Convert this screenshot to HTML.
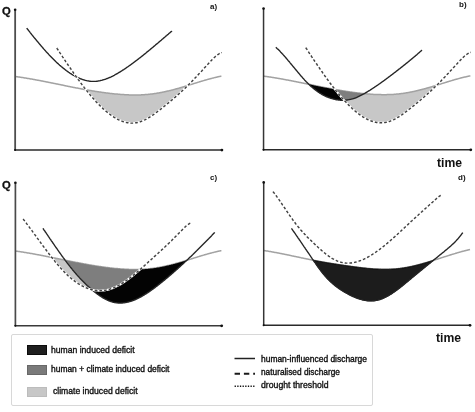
<!DOCTYPE html>
<html><head><meta charset="utf-8"><style>
html,body{margin:0;padding:0;background:#fff;}
body{width:475px;height:412px;position:relative;overflow:hidden;font-family:"Liberation Sans",sans-serif;}
.t,.lt{will-change:transform;}
svg{position:absolute;left:0;top:0;}
.t{position:absolute;white-space:nowrap;color:#111;line-height:1;}
.b{font-weight:bold;}
.tm{font-size:12.2px;}
.lg{position:absolute;left:11.3px;top:334.3px;width:361.3px;height:71.3px;border:1px solid #d8d8d8;box-sizing:border-box;border-radius:2px;}
.sw{position:absolute;left:27px;width:20.4px;height:10px;box-sizing:border-box;}
.lt{position:absolute;font-size:8.6px;color:#111;white-space:nowrap;line-height:1;-webkit-text-stroke:0.35px #111;}
</style></head><body>
<div class="lg"></div>
<svg width="475" height="412" viewBox="0 0 475 412">
<path d="M85.5,89.6 L86.0,89.7 L86.5,89.8 L87.0,89.9 L87.5,90.0 L88.0,90.1 L88.5,90.2 L89.0,90.3 L89.5,90.4 L90.0,90.4 L90.5,90.5 L91.0,90.6 L91.5,90.7 L92.0,90.8 L92.5,90.9 L93.0,91.0 L93.5,91.0 L94.0,91.1 L94.5,91.2 L95.0,91.3 L95.5,91.4 L96.0,91.4 L96.5,91.5 L97.0,91.6 L97.5,91.7 L98.0,91.8 L98.5,91.8 L99.0,91.9 L99.5,92.0 L100.0,92.1 L100.5,92.1 L101.0,92.2 L101.5,92.3 L102.0,92.3 L102.5,92.4 L103.0,92.5 L103.5,92.6 L104.0,92.6 L104.5,92.7 L105.0,92.8 L105.5,92.8 L106.0,92.9 L106.5,93.0 L107.0,93.0 L107.5,93.1 L108.0,93.1 L108.5,93.2 L109.0,93.3 L109.5,93.3 L110.0,93.4 L110.5,93.4 L111.0,93.5 L111.5,93.5 L112.0,93.6 L112.5,93.7 L113.0,93.7 L113.5,93.8 L114.0,93.8 L114.5,93.9 L115.0,93.9 L115.5,94.0 L116.0,94.0 L116.5,94.1 L117.0,94.1 L117.5,94.1 L118.0,94.2 L118.5,94.2 L119.0,94.3 L119.5,94.3 L120.0,94.3 L120.5,94.4 L121.0,94.4 L121.5,94.5 L122.0,94.5 L122.5,94.5 L123.0,94.6 L123.5,94.6 L124.0,94.6 L124.5,94.7 L125.0,94.7 L125.5,94.7 L126.0,94.7 L126.5,94.8 L127.0,94.8 L127.5,94.8 L128.0,94.8 L128.5,94.8 L129.0,94.9 L129.5,94.9 L130.0,94.9 L130.5,94.9 L131.0,94.9 L131.5,94.9 L132.0,94.9 L132.5,95.0 L133.0,95.0 L133.5,95.0 L134.0,95.0 L134.5,95.0 L135.0,95.0 L135.5,95.0 L136.0,95.0 L136.5,95.0 L137.0,95.0 L137.5,95.0 L138.0,94.9 L138.5,94.9 L139.0,94.9 L139.5,94.9 L140.0,94.9 L140.5,94.9 L141.0,94.9 L141.5,94.8 L142.0,94.8 L142.5,94.8 L143.0,94.8 L143.5,94.7 L144.0,94.7 L144.5,94.7 L145.0,94.6 L145.5,94.6 L146.0,94.6 L146.5,94.5 L147.0,94.5 L147.5,94.4 L148.0,94.4 L148.5,94.3 L149.0,94.3 L149.5,94.2 L150.0,94.2 L150.5,94.1 L151.0,94.1 L151.5,94.0 L152.0,93.9 L152.5,93.9 L153.0,93.8 L153.5,93.7 L154.0,93.7 L154.5,93.6 L155.0,93.5 L155.5,93.5 L156.0,93.4 L156.5,93.3 L157.0,93.2 L157.5,93.1 L158.0,93.0 L158.5,93.0 L159.0,92.9 L159.5,92.8 L160.0,92.7 L160.5,92.6 L161.0,92.5 L161.5,92.4 L162.0,92.3 L162.5,92.2 L163.0,92.1 L163.5,92.0 L164.0,91.9 L164.5,91.8 L165.0,91.7 L165.5,91.6 L166.0,91.5 L166.5,91.3 L167.0,91.2 L167.5,91.1 L168.0,91.0 L168.5,90.9 L169.0,90.8 L169.5,90.6 L170.0,90.5 L170.5,90.4 L171.0,90.3 L171.5,90.1 L172.0,90.0 L172.5,89.9 L173.0,89.8 L173.5,89.6 L174.0,89.5 L174.5,89.4 L175.0,89.2 L175.5,89.1 L176.0,89.0 L176.5,88.8 L177.0,88.7 L177.5,88.5 L178.0,88.4 L178.5,88.3 L179.0,88.1 L179.5,88.0 L180.0,87.8 L180.5,87.7 L181.0,87.5 L181.5,87.4 L182.0,87.2 L182.5,87.1 L183.0,86.9 L183.5,86.8 L184.0,86.6 L184.5,86.5 L185.0,86.3 L185.5,86.2 L186.0,86.0 L186.5,85.9 L187.0,85.7 L187.5,85.6 L188.0,85.4 L188.0,85.4 L187.5,85.8 L187.0,86.3 L186.5,86.7 L186.0,87.2 L185.5,87.7 L185.0,88.2 L184.5,88.7 L184.0,89.1 L183.5,89.6 L183.0,90.1 L182.5,90.6 L182.0,91.0 L181.5,91.5 L181.0,91.9 L180.5,92.4 L180.0,92.9 L179.5,93.3 L179.0,93.8 L178.5,94.2 L178.0,94.7 L177.5,95.1 L177.0,95.6 L176.5,96.0 L176.0,96.4 L175.5,96.9 L175.0,97.3 L174.5,97.8 L174.0,98.2 L173.5,98.6 L173.0,99.0 L172.5,99.5 L172.0,99.9 L171.5,100.3 L171.0,100.8 L170.5,101.2 L170.0,101.6 L169.5,102.0 L169.0,102.4 L168.5,102.8 L168.0,103.3 L167.5,103.7 L167.0,104.1 L166.5,104.5 L166.0,104.9 L165.5,105.3 L165.0,105.7 L164.5,106.1 L164.0,106.5 L163.5,106.9 L163.0,107.3 L162.5,107.7 L162.0,108.1 L161.5,108.5 L161.0,108.9 L160.5,109.3 L160.0,109.7 L159.5,110.1 L159.0,110.5 L158.5,110.9 L158.0,111.2 L157.5,111.6 L157.0,112.0 L156.5,112.4 L156.0,112.8 L155.5,113.1 L155.0,113.5 L154.5,113.9 L154.0,114.2 L153.5,114.6 L153.0,114.9 L152.5,115.3 L152.0,115.6 L151.5,115.9 L151.0,116.3 L150.5,116.6 L150.0,116.9 L149.5,117.2 L149.0,117.6 L148.5,117.9 L148.0,118.2 L147.5,118.4 L147.0,118.7 L146.5,119.0 L146.0,119.3 L145.5,119.5 L145.0,119.8 L144.5,120.0 L144.0,120.3 L143.5,120.5 L143.0,120.7 L142.5,120.9 L142.0,121.1 L141.5,121.3 L141.0,121.5 L140.5,121.7 L140.0,121.9 L139.5,122.0 L139.0,122.2 L138.5,122.3 L138.0,122.4 L137.5,122.5 L137.0,122.6 L136.5,122.7 L136.0,122.8 L135.5,122.9 L135.0,122.9 L134.5,123.0 L134.0,123.0 L133.5,123.1 L133.0,123.1 L132.5,123.1 L132.0,123.1 L131.5,123.1 L131.0,123.1 L130.5,123.1 L130.0,123.0 L129.5,123.0 L129.0,122.9 L128.5,122.8 L128.0,122.8 L127.5,122.7 L127.0,122.6 L126.5,122.5 L126.0,122.4 L125.5,122.3 L125.0,122.1 L124.5,122.0 L124.0,121.9 L123.5,121.7 L123.0,121.5 L122.5,121.4 L122.0,121.2 L121.5,121.0 L121.0,120.8 L120.5,120.6 L120.0,120.4 L119.5,120.2 L119.0,119.9 L118.5,119.7 L118.0,119.4 L117.5,119.2 L117.0,118.9 L116.5,118.7 L116.0,118.4 L115.5,118.1 L115.0,117.8 L114.5,117.5 L114.0,117.2 L113.5,116.9 L113.0,116.5 L112.5,116.2 L112.0,115.9 L111.5,115.5 L111.0,115.2 L110.5,114.8 L110.0,114.4 L109.5,114.1 L109.0,113.7 L108.5,113.3 L108.0,112.9 L107.5,112.5 L107.0,112.1 L106.5,111.7 L106.0,111.3 L105.5,110.8 L105.0,110.4 L104.5,110.0 L104.0,109.5 L103.5,109.1 L103.0,108.6 L102.5,108.1 L102.0,107.7 L101.5,107.2 L101.0,106.7 L100.5,106.2 L100.0,105.7 L99.5,105.2 L99.0,104.7 L98.5,104.2 L98.0,103.7 L97.5,103.2 L97.0,102.6 L96.5,102.1 L96.0,101.6 L95.5,101.0 L95.0,100.5 L94.5,99.9 L94.0,99.4 L93.5,98.8 L93.0,98.2 L92.5,97.6 L92.0,97.1 L91.5,96.5 L91.0,95.9 L90.5,95.3 L90.0,94.7 L89.5,94.1 L89.0,93.5 L88.5,92.9 L88.0,92.3 L87.5,91.6 L87.0,91.0 L86.5,90.4 L86.0,89.8 L85.5,89.6Z" fill="#c7c7c7"/>
<path d="M15.0,76.5 L15.5,76.5 L16.0,76.6 L16.5,76.7 L17.0,76.7 L17.5,76.8 L18.0,76.9 L18.5,77.0 L19.0,77.0 L19.5,77.1 L20.0,77.2 L20.5,77.2 L21.0,77.3 L21.5,77.4 L22.0,77.5 L22.5,77.6 L23.0,77.6 L23.5,77.7 L24.0,77.8 L24.5,77.9 L25.0,78.0 L25.5,78.0 L26.0,78.1 L26.5,78.2 L27.0,78.3 L27.5,78.4 L28.0,78.5 L28.5,78.5 L29.0,78.6 L29.5,78.7 L30.0,78.8 L30.5,78.9 L31.0,79.0 L31.5,79.1 L32.0,79.1 L32.5,79.2 L33.0,79.3 L33.5,79.4 L34.0,79.5 L34.5,79.6 L35.0,79.7 L35.5,79.8 L36.0,79.9 L36.5,80.0 L37.0,80.1 L37.5,80.2 L38.0,80.2 L38.5,80.3 L39.0,80.4 L39.5,80.5 L40.0,80.6 L40.5,80.7 L41.0,80.8 L41.5,80.9 L42.0,81.0 L42.5,81.1 L43.0,81.2 L43.5,81.3 L44.0,81.4 L44.5,81.5 L45.0,81.6 L45.5,81.7 L46.0,81.8 L46.5,81.9 L47.0,82.0 L47.5,82.1 L48.0,82.2 L48.5,82.3 L49.0,82.4 L49.5,82.5 L50.0,82.6 L50.5,82.7 L51.0,82.8 L51.5,82.9 L52.0,83.0 L52.5,83.1 L53.0,83.2 L53.5,83.3 L54.0,83.4 L54.5,83.5 L55.0,83.6 L55.5,83.7 L56.0,83.8 L56.5,83.9 L57.0,84.0 L57.5,84.1 L58.0,84.2 L58.5,84.3 L59.0,84.4 L59.5,84.5 L60.0,84.6 L60.5,84.7 L61.0,84.8 L61.5,84.9 L62.0,85.0 L62.5,85.1 L63.0,85.2 L63.5,85.3 L64.0,85.4 L64.5,85.5 L65.0,85.7 L65.5,85.8 L66.0,85.9 L66.5,86.0 L67.0,86.1 L67.5,86.2 L68.0,86.3 L68.5,86.4 L69.0,86.5 L69.5,86.6 L70.0,86.7 L70.5,86.8 L71.0,86.9 L71.5,87.0 L72.0,87.1 L72.5,87.2 L73.0,87.3 L73.5,87.4 L74.0,87.5 L74.5,87.6 L75.0,87.7 L75.5,87.8 L76.0,87.9 L76.5,88.0 L77.0,88.0 L77.5,88.1 L78.0,88.2 L78.5,88.3 L79.0,88.4 L79.5,88.5 L80.0,88.6 L80.5,88.7 L81.0,88.8 L81.5,88.9 L82.0,89.0 L82.5,89.1 L83.0,89.2 L83.5,89.3 L84.0,89.4 L84.5,89.5 L85.0,89.6 L85.5,89.6 L86.0,89.7 L86.5,89.8 L87.0,89.9 L87.5,90.0 L88.0,90.1 L88.5,90.2 L89.0,90.3 L89.5,90.4 L90.0,90.4 L90.5,90.5 L91.0,90.6 L91.5,90.7 L92.0,90.8 L92.5,90.9 L93.0,91.0 L93.5,91.0 L94.0,91.1 L94.5,91.2 L95.0,91.3 L95.5,91.4 L96.0,91.4 L96.5,91.5 L97.0,91.6 L97.5,91.7 L98.0,91.8 L98.5,91.8 L99.0,91.9 L99.5,92.0 L100.0,92.1 L100.5,92.1 L101.0,92.2 L101.5,92.3 L102.0,92.3 L102.5,92.4 L103.0,92.5 L103.5,92.6 L104.0,92.6 L104.5,92.7 L105.0,92.8 L105.5,92.8 L106.0,92.9 L106.5,93.0 L107.0,93.0 L107.5,93.1 L108.0,93.1 L108.5,93.2 L109.0,93.3 L109.5,93.3 L110.0,93.4 L110.5,93.4 L111.0,93.5 L111.5,93.5 L112.0,93.6 L112.5,93.7 L113.0,93.7 L113.5,93.8 L114.0,93.8 L114.5,93.9 L115.0,93.9 L115.5,94.0 L116.0,94.0 L116.5,94.1 L117.0,94.1 L117.5,94.1 L118.0,94.2 L118.5,94.2 L119.0,94.3 L119.5,94.3 L120.0,94.3 L120.5,94.4 L121.0,94.4 L121.5,94.5 L122.0,94.5 L122.5,94.5 L123.0,94.6 L123.5,94.6 L124.0,94.6 L124.5,94.7 L125.0,94.7 L125.5,94.7 L126.0,94.7 L126.5,94.8 L127.0,94.8 L127.5,94.8 L128.0,94.8 L128.5,94.8 L129.0,94.9 L129.5,94.9 L130.0,94.9 L130.5,94.9 L131.0,94.9 L131.5,94.9 L132.0,94.9 L132.5,95.0 L133.0,95.0 L133.5,95.0 L134.0,95.0 L134.5,95.0 L135.0,95.0 L135.5,95.0 L136.0,95.0 L136.5,95.0 L137.0,95.0 L137.5,95.0 L138.0,94.9 L138.5,94.9 L139.0,94.9 L139.5,94.9 L140.0,94.9 L140.5,94.9 L141.0,94.9 L141.5,94.8 L142.0,94.8 L142.5,94.8 L143.0,94.8 L143.5,94.7 L144.0,94.7 L144.5,94.7 L145.0,94.6 L145.5,94.6 L146.0,94.6 L146.5,94.5 L147.0,94.5 L147.5,94.4 L148.0,94.4 L148.5,94.3 L149.0,94.3 L149.5,94.2 L150.0,94.2 L150.5,94.1 L151.0,94.1 L151.5,94.0 L152.0,93.9 L152.5,93.9 L153.0,93.8 L153.5,93.7 L154.0,93.7 L154.5,93.6 L155.0,93.5 L155.5,93.5 L156.0,93.4 L156.5,93.3 L157.0,93.2 L157.5,93.1 L158.0,93.0 L158.5,93.0 L159.0,92.9 L159.5,92.8 L160.0,92.7 L160.5,92.6 L161.0,92.5 L161.5,92.4 L162.0,92.3 L162.5,92.2 L163.0,92.1 L163.5,92.0 L164.0,91.9 L164.5,91.8 L165.0,91.7 L165.5,91.6 L166.0,91.5 L166.5,91.3 L167.0,91.2 L167.5,91.1 L168.0,91.0 L168.5,90.9 L169.0,90.8 L169.5,90.6 L170.0,90.5 L170.5,90.4 L171.0,90.3 L171.5,90.1 L172.0,90.0 L172.5,89.9 L173.0,89.8 L173.5,89.6 L174.0,89.5 L174.5,89.4 L175.0,89.2 L175.5,89.1 L176.0,89.0 L176.5,88.8 L177.0,88.7 L177.5,88.5 L178.0,88.4 L178.5,88.3 L179.0,88.1 L179.5,88.0 L180.0,87.8 L180.5,87.7 L181.0,87.5 L181.5,87.4 L182.0,87.2 L182.5,87.1 L183.0,86.9 L183.5,86.8 L184.0,86.6 L184.5,86.5 L185.0,86.3 L185.5,86.2 L186.0,86.0 L186.5,85.9 L187.0,85.7 L187.5,85.6 L188.0,85.4 L188.5,85.3 L189.0,85.1 L189.5,84.9 L190.0,84.8 L190.5,84.6 L191.0,84.5 L191.5,84.3 L192.0,84.2 L192.5,84.0 L193.0,83.9 L193.5,83.7 L194.0,83.5 L194.5,83.4 L195.0,83.2 L195.5,83.1 L196.0,82.9 L196.5,82.8 L197.0,82.6 L197.5,82.5 L198.0,82.3 L198.5,82.1 L199.0,82.0 L199.5,81.8 L200.0,81.7 L200.5,81.5 L201.0,81.4 L201.5,81.2 L202.0,81.1 L202.5,80.9 L203.0,80.8 L203.5,80.6 L204.0,80.5 L204.5,80.3 L205.0,80.2 L205.5,80.0 L206.0,79.9 L206.5,79.8 L207.0,79.6 L207.5,79.5 L208.0,79.3 L208.5,79.2 L209.0,79.1 L209.5,78.9 L210.0,78.8 L210.5,78.7 L211.0,78.5 L211.5,78.4 L212.0,78.3 L212.5,78.1 L213.0,78.0 L213.5,77.9 L214.0,77.8 L214.5,77.6 L215.0,77.5 L215.5,77.4 L216.0,77.3 L216.5,77.2 L217.0,77.1 L217.5,77.0 L218.0,76.8 L218.5,76.7 L219.0,76.6 L219.5,76.5 L220.0,76.4 L220.5,76.3 L221.0,76.2 L221.4,76.2" fill="none" stroke="#a2a2a2" stroke-width="1.5"/>
<path d="M26.7,28.1 L27.2,28.8 L27.7,29.4 L28.2,30.0 L28.7,30.7 L29.2,31.3 L29.7,31.9 L30.2,32.6 L30.7,33.2 L31.2,33.8 L31.7,34.5 L32.2,35.1 L32.7,35.7 L33.2,36.3 L33.7,37.0 L34.2,37.6 L34.7,38.2 L35.2,38.8 L35.7,39.4 L36.2,40.0 L36.7,40.6 L37.2,41.2 L37.7,41.8 L38.2,42.4 L38.7,43.0 L39.2,43.6 L39.7,44.2 L40.2,44.8 L40.7,45.4 L41.2,46.0 L41.7,46.6 L42.2,47.1 L42.7,47.7 L43.2,48.3 L43.7,48.9 L44.2,49.4 L44.7,50.0 L45.2,50.5 L45.7,51.1 L46.2,51.7 L46.7,52.2 L47.2,52.8 L47.7,53.3 L48.2,53.8 L48.7,54.4 L49.2,54.9 L49.7,55.4 L50.2,56.0 L50.7,56.5 L51.2,57.0 L51.7,57.5 L52.2,58.0 L52.7,58.5 L53.2,59.0 L53.7,59.5 L54.2,60.0 L54.7,60.5 L55.2,61.0 L55.7,61.5 L56.2,61.9 L56.7,62.4 L57.2,62.9 L57.7,63.4 L58.2,63.8 L58.7,64.3 L59.2,64.7 L59.7,65.2 L60.2,65.6 L60.7,66.0 L61.2,66.5 L61.7,66.9 L62.2,67.3 L62.7,67.7 L63.2,68.1 L63.7,68.5 L64.2,68.9 L64.7,69.3 L65.2,69.7 L65.7,70.1 L66.2,70.5 L66.7,70.8 L67.2,71.2 L67.7,71.6 L68.2,71.9 L68.7,72.3 L69.2,72.6 L69.7,73.0 L70.2,73.3 L70.7,73.6 L71.2,73.9 L71.7,74.3 L72.2,74.6 L72.7,74.9 L73.2,75.2 L73.7,75.5 L74.2,75.7 L74.7,76.0 L75.2,76.3 L75.7,76.6 L76.2,76.8 L76.7,77.1 L77.2,77.3 L77.7,77.6 L78.2,77.8 L78.7,78.0 L79.2,78.2 L79.7,78.4 L80.2,78.6 L80.7,78.8 L81.2,79.0 L81.7,79.2 L82.2,79.4 L82.7,79.6 L83.2,79.7 L83.7,79.9 L84.2,80.0 L84.7,80.2 L85.2,80.3 L85.7,80.4 L86.2,80.6 L86.7,80.7 L87.2,80.8 L87.7,80.9 L88.2,80.9 L88.7,81.0 L89.2,81.1 L89.7,81.2 L90.2,81.2 L90.7,81.3 L91.2,81.3 L91.7,81.3 L92.2,81.4 L92.7,81.4 L93.2,81.4 L93.7,81.4 L94.2,81.4 L94.7,81.4 L95.2,81.3 L95.7,81.3 L96.2,81.3 L96.7,81.2 L97.2,81.2 L97.7,81.1 L98.2,81.0 L98.7,80.9 L99.2,80.8 L99.7,80.8 L100.2,80.6 L100.7,80.5 L101.2,80.4 L101.7,80.3 L102.2,80.2 L102.7,80.0 L103.2,79.9 L103.7,79.7 L104.2,79.6 L104.7,79.4 L105.2,79.3 L105.7,79.1 L106.2,78.9 L106.7,78.7 L107.2,78.5 L107.7,78.3 L108.2,78.1 L108.7,77.9 L109.2,77.7 L109.7,77.5 L110.2,77.3 L110.7,77.0 L111.2,76.8 L111.7,76.5 L112.2,76.3 L112.7,76.1 L113.2,75.8 L113.7,75.5 L114.2,75.3 L114.7,75.0 L115.2,74.7 L115.7,74.5 L116.2,74.2 L116.7,73.9 L117.2,73.6 L117.7,73.3 L118.2,73.0 L118.7,72.7 L119.2,72.4 L119.7,72.1 L120.2,71.8 L120.7,71.5 L121.2,71.2 L121.7,70.9 L122.2,70.5 L122.7,70.2 L123.2,69.9 L123.7,69.6 L124.2,69.2 L124.7,68.9 L125.2,68.6 L125.7,68.2 L126.2,67.9 L126.7,67.5 L127.2,67.2 L127.7,66.8 L128.2,66.5 L128.7,66.1 L129.2,65.8 L129.7,65.4 L130.2,65.1 L130.7,64.7 L131.2,64.4 L131.7,64.0 L132.2,63.6 L132.7,63.3 L133.2,62.9 L133.7,62.5 L134.2,62.2 L134.7,61.8 L135.2,61.4 L135.7,61.0 L136.2,60.6 L136.7,60.3 L137.2,59.9 L137.7,59.5 L138.2,59.1 L138.7,58.7 L139.2,58.3 L139.7,57.9 L140.2,57.6 L140.7,57.2 L141.2,56.8 L141.7,56.4 L142.2,56.0 L142.7,55.6 L143.2,55.2 L143.7,54.8 L144.2,54.4 L144.7,54.0 L145.2,53.6 L145.7,53.2 L146.2,52.8 L146.7,52.3 L147.2,51.9 L147.7,51.5 L148.2,51.1 L148.7,50.7 L149.2,50.3 L149.7,49.9 L150.2,49.5 L150.7,49.0 L151.2,48.6 L151.7,48.2 L152.2,47.8 L152.7,47.4 L153.2,47.0 L153.7,46.5 L154.2,46.1 L154.7,45.7 L155.2,45.3 L155.7,44.8 L156.2,44.4 L156.7,44.0 L157.2,43.6 L157.7,43.2 L158.2,42.7 L158.7,42.3 L159.2,41.9 L159.7,41.4 L160.2,41.0 L160.7,40.6 L161.2,40.2 L161.7,39.7 L162.2,39.3 L162.7,38.9 L163.2,38.5 L163.7,38.0 L164.2,37.6 L164.7,37.2 L165.2,36.7 L165.7,36.3 L166.2,35.9 L166.7,35.5 L167.2,35.0 L167.7,34.6 L168.2,34.2 L168.7,33.7 L169.2,33.3 L169.7,32.9 L170.2,32.5 L170.7,32.0 L171.2,31.6 L171.7,31.2 L172.0,30.9" fill="none" stroke="#252525" stroke-width="1.35"/>
<path d="M56.8,48.0 L57.3,48.8 L57.8,49.5 L58.3,50.3 L58.8,51.0 L59.3,51.8 L59.8,52.6 L60.3,53.3 L60.8,54.1 L61.3,54.8 L61.8,55.6 L62.3,56.3 L62.8,57.1 L63.3,57.8 L63.8,58.6 L64.3,59.3 L64.8,60.1 L65.3,60.8 L65.8,61.6 L66.3,62.3 L66.8,63.1 L67.3,63.8 L67.8,64.5 L68.3,65.3 L68.8,66.0 L69.3,66.7 L69.8,67.5 L70.3,68.2 L70.8,68.9 L71.3,69.7 L71.8,70.4 L72.3,71.1 L72.8,71.8 L73.3,72.5 L73.8,73.3 L74.3,74.0 L74.8,74.7 L75.3,75.4 L75.8,76.1 L76.3,76.8 L76.8,77.5 L77.3,78.2 L77.8,78.9 L78.3,79.6 L78.8,80.2 L79.3,80.9 L79.8,81.6 L80.3,82.3 L80.8,83.0 L81.3,83.6 L81.8,84.3 L82.3,85.0 L82.8,85.6 L83.3,86.3 L83.8,86.9 L84.3,87.6 L84.8,88.2 L85.3,88.9 L85.8,89.5 L86.3,90.1 L86.8,90.8 L87.3,91.4 L87.8,92.0 L88.3,92.6 L88.8,93.2 L89.3,93.9 L89.8,94.5 L90.3,95.1 L90.8,95.7 L91.3,96.2 L91.8,96.8 L92.3,97.4 L92.8,98.0 L93.3,98.6 L93.8,99.1 L94.3,99.7 L94.8,100.2 L95.3,100.8 L95.8,101.3 L96.3,101.9 L96.8,102.4 L97.3,102.9 L97.8,103.5 L98.3,104.0 L98.8,104.5 L99.3,105.0 L99.8,105.5 L100.3,106.0 L100.8,106.5 L101.3,107.0 L101.8,107.5 L102.3,107.9 L102.8,108.4 L103.3,108.9 L103.8,109.3 L104.3,109.8 L104.8,110.2 L105.3,110.7 L105.8,111.1 L106.3,111.5 L106.8,111.9 L107.3,112.3 L107.8,112.7 L108.3,113.1 L108.8,113.5 L109.3,113.9 L109.8,114.3 L110.3,114.7 L110.8,115.0 L111.3,115.4 L111.8,115.7 L112.3,116.1 L112.8,116.4 L113.3,116.7 L113.8,117.1 L114.3,117.4 L114.8,117.7 L115.3,118.0 L115.8,118.3 L116.3,118.5 L116.8,118.8 L117.3,119.1 L117.8,119.3 L118.3,119.6 L118.8,119.8 L119.3,120.1 L119.8,120.3 L120.3,120.5 L120.8,120.7 L121.3,120.9 L121.8,121.1 L122.3,121.3 L122.8,121.5 L123.3,121.6 L123.8,121.8 L124.3,121.9 L124.8,122.1 L125.3,122.2 L125.8,122.3 L126.3,122.5 L126.8,122.6 L127.3,122.7 L127.8,122.7 L128.3,122.8 L128.8,122.9 L129.3,122.9 L129.8,123.0 L130.3,123.0 L130.8,123.1 L131.3,123.1 L131.8,123.1 L132.3,123.1 L132.8,123.1 L133.3,123.1 L133.8,123.1 L134.3,123.0 L134.8,123.0 L135.3,122.9 L135.8,122.8 L136.3,122.8 L136.8,122.7 L137.3,122.6 L137.8,122.5 L138.3,122.3 L138.8,122.2 L139.3,122.1 L139.8,121.9 L140.3,121.8 L140.8,121.6 L141.3,121.4 L141.8,121.2 L142.3,121.0 L142.8,120.8 L143.3,120.6 L143.8,120.4 L144.3,120.1 L144.8,119.9 L145.3,119.6 L145.8,119.4 L146.3,119.1 L146.8,118.8 L147.3,118.6 L147.8,118.3 L148.3,118.0 L148.8,117.7 L149.3,117.4 L149.8,117.1 L150.3,116.7 L150.8,116.4 L151.3,116.1 L151.8,115.7 L152.3,115.4 L152.8,115.1 L153.3,114.7 L153.8,114.4 L154.3,114.0 L154.8,113.6 L155.3,113.3 L155.8,112.9 L156.3,112.5 L156.8,112.2 L157.3,111.8 L157.8,111.4 L158.3,111.0 L158.8,110.6 L159.3,110.2 L159.8,109.8 L160.3,109.5 L160.8,109.1 L161.3,108.7 L161.8,108.3 L162.3,107.9 L162.8,107.5 L163.3,107.1 L163.8,106.7 L164.3,106.3 L164.8,105.9 L165.3,105.5 L165.8,105.1 L166.3,104.7 L166.8,104.2 L167.3,103.8 L167.8,103.4 L168.3,103.0 L168.8,102.6 L169.3,102.2 L169.8,101.8 L170.3,101.3 L170.8,100.9 L171.3,100.5 L171.8,100.1 L172.3,99.6 L172.8,99.2 L173.3,98.8 L173.8,98.4 L174.3,97.9 L174.8,97.5 L175.3,97.1 L175.8,96.6 L176.3,96.2 L176.8,95.7 L177.3,95.3 L177.8,94.8 L178.3,94.4 L178.8,93.9 L179.3,93.5 L179.8,93.0 L180.3,92.6 L180.8,92.1 L181.3,91.7 L181.8,91.2 L182.3,90.7 L182.8,90.3 L183.3,89.8 L183.8,89.3 L184.3,88.9 L184.8,88.4 L185.3,87.9 L185.8,87.4 L186.3,86.9 L186.8,86.5 L187.3,86.0 L187.8,85.5 L188.3,85.0 L188.8,84.5 L189.3,84.0 L189.8,83.5 L190.3,83.0 L190.8,82.5 L191.3,82.0 L191.8,81.5 L192.3,80.9 L192.8,80.4 L193.3,79.9 L193.8,79.4 L194.3,78.9 L194.8,78.3 L195.3,77.8 L195.8,77.3 L196.3,76.8 L196.8,76.2 L197.3,75.7 L197.8,75.2 L198.3,74.6 L198.8,74.1 L199.3,73.6 L199.8,73.0 L200.3,72.5 L200.8,71.9 L201.3,71.4 L201.8,70.9 L202.3,70.3 L202.8,69.8 L203.3,69.2 L203.8,68.7 L204.3,68.1 L204.8,67.6 L205.3,67.1 L205.8,66.5 L206.3,66.0 L206.8,65.4 L207.3,64.9 L207.8,64.3 L208.3,63.8 L208.8,63.2 L209.3,62.7 L209.8,62.1 L210.3,61.6 L210.8,61.1 L211.3,60.5 L211.8,60.0 L212.3,59.5 L212.8,59.0 L213.3,58.5 L213.8,58.0 L214.3,57.5 L214.8,57.0 L215.3,56.6 L215.8,56.1 L216.3,55.7 L216.8,55.3 L217.3,54.9 L217.8,54.6 L218.3,54.3 L218.8,54.0 L219.3,53.7 L219.8,53.4 L220.3,53.2 L220.8,53.0 L221.3,52.9 L221.8,52.7 L222.0,52.7" fill="none" stroke="#fff" stroke-width="2.0"/>
<path d="M56.8,48.0 L57.3,48.8 L57.8,49.5 L58.3,50.3 L58.8,51.0 L59.3,51.8 L59.8,52.6 L60.3,53.3 L60.8,54.1 L61.3,54.8 L61.8,55.6 L62.3,56.3 L62.8,57.1 L63.3,57.8 L63.8,58.6 L64.3,59.3 L64.8,60.1 L65.3,60.8 L65.8,61.6 L66.3,62.3 L66.8,63.1 L67.3,63.8 L67.8,64.5 L68.3,65.3 L68.8,66.0 L69.3,66.7 L69.8,67.5 L70.3,68.2 L70.8,68.9 L71.3,69.7 L71.8,70.4 L72.3,71.1 L72.8,71.8 L73.3,72.5 L73.8,73.3 L74.3,74.0 L74.8,74.7 L75.3,75.4 L75.8,76.1 L76.3,76.8 L76.8,77.5 L77.3,78.2 L77.8,78.9 L78.3,79.6 L78.8,80.2 L79.3,80.9 L79.8,81.6 L80.3,82.3 L80.8,83.0 L81.3,83.6 L81.8,84.3 L82.3,85.0 L82.8,85.6 L83.3,86.3 L83.8,86.9 L84.3,87.6 L84.8,88.2 L85.3,88.9 L85.8,89.5 L86.3,90.1 L86.8,90.8 L87.3,91.4 L87.8,92.0 L88.3,92.6 L88.8,93.2 L89.3,93.9 L89.8,94.5 L90.3,95.1 L90.8,95.7 L91.3,96.2 L91.8,96.8 L92.3,97.4 L92.8,98.0 L93.3,98.6 L93.8,99.1 L94.3,99.7 L94.8,100.2 L95.3,100.8 L95.8,101.3 L96.3,101.9 L96.8,102.4 L97.3,102.9 L97.8,103.5 L98.3,104.0 L98.8,104.5 L99.3,105.0 L99.8,105.5 L100.3,106.0 L100.8,106.5 L101.3,107.0 L101.8,107.5 L102.3,107.9 L102.8,108.4 L103.3,108.9 L103.8,109.3 L104.3,109.8 L104.8,110.2 L105.3,110.7 L105.8,111.1 L106.3,111.5 L106.8,111.9 L107.3,112.3 L107.8,112.7 L108.3,113.1 L108.8,113.5 L109.3,113.9 L109.8,114.3 L110.3,114.7 L110.8,115.0 L111.3,115.4 L111.8,115.7 L112.3,116.1 L112.8,116.4 L113.3,116.7 L113.8,117.1 L114.3,117.4 L114.8,117.7 L115.3,118.0 L115.8,118.3 L116.3,118.5 L116.8,118.8 L117.3,119.1 L117.8,119.3 L118.3,119.6 L118.8,119.8 L119.3,120.1 L119.8,120.3 L120.3,120.5 L120.8,120.7 L121.3,120.9 L121.8,121.1 L122.3,121.3 L122.8,121.5 L123.3,121.6 L123.8,121.8 L124.3,121.9 L124.8,122.1 L125.3,122.2 L125.8,122.3 L126.3,122.5 L126.8,122.6 L127.3,122.7 L127.8,122.7 L128.3,122.8 L128.8,122.9 L129.3,122.9 L129.8,123.0 L130.3,123.0 L130.8,123.1 L131.3,123.1 L131.8,123.1 L132.3,123.1 L132.8,123.1 L133.3,123.1 L133.8,123.1 L134.3,123.0 L134.8,123.0 L135.3,122.9 L135.8,122.8 L136.3,122.8 L136.8,122.7 L137.3,122.6 L137.8,122.5 L138.3,122.3 L138.8,122.2 L139.3,122.1 L139.8,121.9 L140.3,121.8 L140.8,121.6 L141.3,121.4 L141.8,121.2 L142.3,121.0 L142.8,120.8 L143.3,120.6 L143.8,120.4 L144.3,120.1 L144.8,119.9 L145.3,119.6 L145.8,119.4 L146.3,119.1 L146.8,118.8 L147.3,118.6 L147.8,118.3 L148.3,118.0 L148.8,117.7 L149.3,117.4 L149.8,117.1 L150.3,116.7 L150.8,116.4 L151.3,116.1 L151.8,115.7 L152.3,115.4 L152.8,115.1 L153.3,114.7 L153.8,114.4 L154.3,114.0 L154.8,113.6 L155.3,113.3 L155.8,112.9 L156.3,112.5 L156.8,112.2 L157.3,111.8 L157.8,111.4 L158.3,111.0 L158.8,110.6 L159.3,110.2 L159.8,109.8 L160.3,109.5 L160.8,109.1 L161.3,108.7 L161.8,108.3 L162.3,107.9 L162.8,107.5 L163.3,107.1 L163.8,106.7 L164.3,106.3 L164.8,105.9 L165.3,105.5 L165.8,105.1 L166.3,104.7 L166.8,104.2 L167.3,103.8 L167.8,103.4 L168.3,103.0 L168.8,102.6 L169.3,102.2 L169.8,101.8 L170.3,101.3 L170.8,100.9 L171.3,100.5 L171.8,100.1 L172.3,99.6 L172.8,99.2 L173.3,98.8 L173.8,98.4 L174.3,97.9 L174.8,97.5 L175.3,97.1 L175.8,96.6 L176.3,96.2 L176.8,95.7 L177.3,95.3 L177.8,94.8 L178.3,94.4 L178.8,93.9 L179.3,93.5 L179.8,93.0 L180.3,92.6 L180.8,92.1 L181.3,91.7 L181.8,91.2 L182.3,90.7 L182.8,90.3 L183.3,89.8 L183.8,89.3 L184.3,88.9 L184.8,88.4 L185.3,87.9 L185.8,87.4 L186.3,86.9 L186.8,86.5 L187.3,86.0 L187.8,85.5 L188.3,85.0 L188.8,84.5 L189.3,84.0 L189.8,83.5 L190.3,83.0 L190.8,82.5 L191.3,82.0 L191.8,81.5 L192.3,80.9 L192.8,80.4 L193.3,79.9 L193.8,79.4 L194.3,78.9 L194.8,78.3 L195.3,77.8 L195.8,77.3 L196.3,76.8 L196.8,76.2 L197.3,75.7 L197.8,75.2 L198.3,74.6 L198.8,74.1 L199.3,73.6 L199.8,73.0 L200.3,72.5 L200.8,71.9 L201.3,71.4 L201.8,70.9 L202.3,70.3 L202.8,69.8 L203.3,69.2 L203.8,68.7 L204.3,68.1 L204.8,67.6 L205.3,67.1 L205.8,66.5 L206.3,66.0 L206.8,65.4 L207.3,64.9 L207.8,64.3 L208.3,63.8 L208.8,63.2 L209.3,62.7 L209.8,62.1 L210.3,61.6 L210.8,61.1 L211.3,60.5 L211.8,60.0 L212.3,59.5 L212.8,59.0 L213.3,58.5 L213.8,58.0 L214.3,57.5 L214.8,57.0 L215.3,56.6 L215.8,56.1 L216.3,55.7 L216.8,55.3 L217.3,54.9 L217.8,54.6 L218.3,54.3 L218.8,54.0 L219.3,53.7 L219.8,53.4 L220.3,53.2 L220.8,53.0 L221.3,52.9 L221.8,52.7 L222.0,52.7" fill="none" stroke="#404040" stroke-width="1.45" stroke-dasharray="2.7 2.0"/>
<path d="M344.0,100.2 L344.5,100.2 L345.0,100.2 L345.5,100.1 L346.0,100.1 L346.5,100.0 L347.0,100.0 L347.5,99.9 L348.0,99.9 L348.5,99.8 L349.0,99.7 L349.5,99.6 L350.0,99.5 L350.5,99.4 L351.0,99.3 L351.5,99.1 L352.0,99.0 L352.5,98.9 L353.0,98.7 L353.5,98.6 L354.0,98.4 L354.5,98.2 L355.0,98.1 L355.5,97.9 L356.0,97.7 L356.5,97.5 L357.0,97.3 L357.5,97.1 L358.0,96.8 L358.5,96.6 L359.0,96.4 L359.5,96.1 L360.0,95.9 L360.5,95.6 L361.0,95.4 L361.5,95.1 L362.0,94.9 L362.5,94.6 L363.0,94.3 L363.5,94.0 L364.0,93.7 L364.5,93.7 L365.0,93.7 L365.5,93.8 L366.0,93.8 L366.5,93.8 L367.0,93.9 L367.5,93.9 L368.0,94.0 L368.5,94.0 L369.0,94.0 L369.5,94.1 L370.0,94.1 L370.5,94.2 L371.0,94.2 L371.5,94.2 L372.0,94.3 L372.5,94.3 L373.0,94.3 L373.5,94.4 L374.0,94.4 L374.5,94.4 L375.0,94.4 L375.5,94.5 L376.0,94.5 L376.5,94.5 L377.0,94.5 L377.5,94.5 L378.0,94.6 L378.5,94.6 L379.0,94.6 L379.5,94.6 L380.0,94.6 L380.5,94.6 L381.0,94.6 L381.5,94.7 L382.0,94.7 L382.5,94.7 L383.0,94.7 L383.5,94.7 L384.0,94.7 L384.5,94.7 L385.0,94.7 L385.5,94.7 L386.0,94.7 L386.5,94.7 L387.0,94.6 L387.5,94.6 L388.0,94.6 L388.5,94.6 L389.0,94.6 L389.5,94.6 L390.0,94.6 L390.5,94.5 L391.0,94.5 L391.5,94.5 L392.0,94.5 L392.5,94.4 L393.0,94.4 L393.5,94.4 L394.0,94.3 L394.5,94.3 L395.0,94.3 L395.5,94.2 L396.0,94.2 L396.5,94.1 L397.0,94.1 L397.5,94.0 L398.0,94.0 L398.5,93.9 L399.0,93.9 L399.5,93.8 L400.0,93.8 L400.5,93.7 L401.0,93.6 L401.5,93.6 L402.0,93.5 L402.5,93.4 L403.0,93.4 L403.5,93.3 L404.0,93.2 L404.5,93.2 L405.0,93.1 L405.5,93.0 L406.0,92.9 L406.5,92.8 L407.0,92.7 L407.5,92.7 L408.0,92.6 L408.5,92.5 L409.0,92.4 L409.5,92.3 L410.0,92.2 L410.5,92.1 L411.0,92.0 L411.5,91.9 L412.0,91.8 L412.5,91.7 L413.0,91.6 L413.5,91.5 L414.0,91.4 L414.5,91.3 L415.0,91.2 L415.5,91.0 L416.0,90.9 L416.5,90.8 L417.0,90.7 L417.5,90.6 L418.0,90.5 L418.5,90.3 L419.0,90.2 L419.5,90.1 L420.0,90.0 L420.5,89.8 L421.0,89.7 L421.5,89.6 L422.0,89.5 L422.5,89.3 L423.0,89.2 L423.5,89.1 L424.0,88.9 L424.5,88.8 L425.0,88.7 L425.5,88.5 L426.0,88.4 L426.5,88.2 L427.0,88.1 L427.5,88.0 L428.0,87.8 L428.5,87.7 L429.0,87.5 L429.5,87.4 L430.0,87.2 L430.5,87.1 L431.0,86.9 L431.5,86.8 L432.0,86.6 L432.5,86.5 L433.0,86.3 L433.5,86.2 L434.0,86.0 L434.5,85.9 L435.0,85.7 L435.5,85.6 L436.0,85.4 L436.5,85.3 L437.0,85.1 L437.0,85.1 L436.5,85.5 L436.0,86.0 L435.5,86.4 L435.0,86.9 L434.5,87.4 L434.0,87.9 L433.5,88.4 L433.0,88.8 L432.5,89.3 L432.0,89.8 L431.5,90.3 L431.0,90.7 L430.5,91.2 L430.0,91.6 L429.5,92.1 L429.0,92.6 L428.5,93.0 L428.0,93.5 L427.5,93.9 L427.0,94.4 L426.5,94.8 L426.0,95.3 L425.5,95.7 L425.0,96.1 L424.5,96.6 L424.0,97.0 L423.5,97.5 L423.0,97.9 L422.5,98.3 L422.0,98.7 L421.5,99.2 L421.0,99.6 L420.5,100.0 L420.0,100.5 L419.5,100.9 L419.0,101.3 L418.5,101.7 L418.0,102.1 L417.5,102.5 L417.0,103.0 L416.5,103.4 L416.0,103.8 L415.5,104.2 L415.0,104.6 L414.5,105.0 L414.0,105.4 L413.5,105.8 L413.0,106.2 L412.5,106.6 L412.0,107.0 L411.5,107.4 L411.0,107.8 L410.5,108.2 L410.0,108.6 L409.5,109.0 L409.0,109.4 L408.5,109.8 L408.0,110.2 L407.5,110.6 L407.0,110.9 L406.5,111.3 L406.0,111.7 L405.5,112.1 L405.0,112.5 L404.5,112.8 L404.0,113.2 L403.5,113.6 L403.0,113.9 L402.5,114.3 L402.0,114.6 L401.5,115.0 L401.0,115.3 L400.5,115.6 L400.0,116.0 L399.5,116.3 L399.0,116.6 L398.5,116.9 L398.0,117.3 L397.5,117.6 L397.0,117.9 L396.5,118.1 L396.0,118.4 L395.5,118.7 L395.0,119.0 L394.5,119.2 L394.0,119.5 L393.5,119.7 L393.0,120.0 L392.5,120.2 L392.0,120.4 L391.5,120.6 L391.0,120.8 L390.5,121.0 L390.0,121.2 L389.5,121.4 L389.0,121.6 L388.5,121.7 L388.0,121.9 L387.5,122.0 L387.0,122.1 L386.5,122.2 L386.0,122.3 L385.5,122.4 L385.0,122.5 L384.5,122.6 L384.0,122.6 L383.5,122.7 L383.0,122.7 L382.5,122.8 L382.0,122.8 L381.5,122.8 L381.0,122.8 L380.5,122.8 L380.0,122.8 L379.5,122.8 L379.0,122.7 L378.5,122.7 L378.0,122.6 L377.5,122.5 L377.0,122.5 L376.5,122.4 L376.0,122.3 L375.5,122.2 L375.0,122.1 L374.5,122.0 L374.0,121.8 L373.5,121.7 L373.0,121.6 L372.5,121.4 L372.0,121.2 L371.5,121.1 L371.0,120.9 L370.5,120.7 L370.0,120.5 L369.5,120.3 L369.0,120.1 L368.5,119.9 L368.0,119.6 L367.5,119.4 L367.0,119.1 L366.5,118.9 L366.0,118.6 L365.5,118.4 L365.0,118.1 L364.5,117.8 L364.0,117.5 L363.5,117.2 L363.0,116.9 L362.5,116.6 L362.0,116.2 L361.5,115.9 L361.0,115.6 L360.5,115.2 L360.0,114.9 L359.5,114.5 L359.0,114.1 L358.5,113.8 L358.0,113.4 L357.5,113.0 L357.0,112.6 L356.5,112.2 L356.0,111.8 L355.5,111.4 L355.0,111.0 L354.5,110.5 L354.0,110.1 L353.5,109.7 L353.0,109.2 L352.5,108.8 L352.0,108.3 L351.5,107.8 L351.0,107.4 L350.5,106.9 L350.0,106.4 L349.5,105.9 L349.0,105.4 L348.5,104.9 L348.0,104.4 L347.5,103.9 L347.0,103.4 L346.5,102.9 L346.0,102.3 L345.5,101.8 L345.0,101.3 L344.5,100.7 L344.0,100.2Z" fill="#c7c7c7"/>
<path d="M264.0,76.2 L264.5,76.2 L265.0,76.3 L265.5,76.4 L266.0,76.4 L266.5,76.5 L267.0,76.6 L267.5,76.7 L268.0,76.7 L268.5,76.8 L269.0,76.9 L269.5,76.9 L270.0,77.0 L270.5,77.1 L271.0,77.2 L271.5,77.3 L272.0,77.3 L272.5,77.4 L273.0,77.5 L273.5,77.6 L274.0,77.7 L274.5,77.7 L275.0,77.8 L275.5,77.9 L276.0,78.0 L276.5,78.1 L277.0,78.2 L277.5,78.2 L278.0,78.3 L278.5,78.4 L279.0,78.5 L279.5,78.6 L280.0,78.7 L280.5,78.8 L281.0,78.8 L281.5,78.9 L282.0,79.0 L282.5,79.1 L283.0,79.2 L283.5,79.3 L284.0,79.4 L284.5,79.5 L285.0,79.6 L285.5,79.7 L286.0,79.8 L286.5,79.9 L287.0,79.9 L287.5,80.0 L288.0,80.1 L288.5,80.2 L289.0,80.3 L289.5,80.4 L290.0,80.5 L290.5,80.6 L291.0,80.7 L291.5,80.8 L292.0,80.9 L292.5,81.0 L293.0,81.1 L293.5,81.2 L294.0,81.3 L294.5,81.4 L295.0,81.5 L295.5,81.6 L296.0,81.7 L296.5,81.8 L297.0,81.9 L297.5,82.0 L298.0,82.1 L298.5,82.2 L299.0,82.3 L299.5,82.4 L300.0,82.5 L300.5,82.6 L301.0,82.7 L301.5,82.8 L302.0,82.9 L302.5,83.0 L303.0,83.1 L303.5,83.2 L304.0,83.3 L304.5,83.4 L305.0,83.5 L305.5,83.6 L306.0,83.7 L306.5,83.8 L307.0,83.9 L307.5,84.0 L308.0,84.1 L308.5,84.2 L309.0,84.3 L309.5,84.4 L310.0,84.5 L310.5,84.6 L311.0,84.7 L311.5,84.8 L312.0,84.9 L312.5,85.0 L313.0,85.1 L313.5,85.2 L314.0,85.4 L314.5,85.5 L315.0,85.6 L315.5,85.7 L316.0,85.8 L316.5,85.9 L317.0,86.0 L317.5,86.1 L318.0,86.2 L318.5,86.3 L319.0,86.4 L319.5,86.5 L320.0,86.6 L320.5,86.7 L321.0,86.8 L321.5,86.9 L322.0,87.0 L322.5,87.1 L323.0,87.2 L323.5,87.3 L324.0,87.4 L324.5,87.5 L325.0,87.6 L325.5,87.7 L326.0,87.7 L326.5,87.8 L327.0,87.9 L327.5,88.0 L328.0,88.1 L328.5,88.2 L329.0,88.3 L329.5,88.4 L330.0,88.5 L330.5,88.6 L331.0,88.7 L331.5,88.8 L332.0,88.9 L332.5,89.0 L333.0,89.1 L333.5,89.2 L334.0,89.3 L334.5,89.3 L335.0,89.4 L335.5,89.5 L336.0,89.6 L336.5,89.7 L337.0,89.8 L337.5,89.9 L338.0,90.0 L338.5,90.1 L339.0,90.1 L339.5,90.2 L340.0,90.3 L340.5,90.4 L341.0,90.5 L341.5,90.6 L342.0,90.7 L342.5,90.7 L343.0,90.8 L343.5,90.9 L344.0,91.0 L344.5,91.1 L345.0,91.1 L345.5,91.2 L346.0,91.3 L346.5,91.4 L347.0,91.5 L347.5,91.5 L348.0,91.6 L348.5,91.7 L349.0,91.8 L349.5,91.8 L350.0,91.9 L350.5,92.0 L351.0,92.0 L351.5,92.1 L352.0,92.2 L352.5,92.3 L353.0,92.3 L353.5,92.4 L354.0,92.5 L354.5,92.5 L355.0,92.6 L355.5,92.7 L356.0,92.7 L356.5,92.8 L357.0,92.8 L357.5,92.9 L358.0,93.0 L358.5,93.0 L359.0,93.1 L359.5,93.1 L360.0,93.2 L360.5,93.2 L361.0,93.3 L361.5,93.4 L362.0,93.4 L362.5,93.5 L363.0,93.5 L363.5,93.6 L364.0,93.6 L364.5,93.7 L365.0,93.7 L365.5,93.8 L366.0,93.8 L366.5,93.8 L367.0,93.9 L367.5,93.9 L368.0,94.0 L368.5,94.0 L369.0,94.0 L369.5,94.1 L370.0,94.1 L370.5,94.2 L371.0,94.2 L371.5,94.2 L372.0,94.3 L372.5,94.3 L373.0,94.3 L373.5,94.4 L374.0,94.4 L374.5,94.4 L375.0,94.4 L375.5,94.5 L376.0,94.5 L376.5,94.5 L377.0,94.5 L377.5,94.5 L378.0,94.6 L378.5,94.6 L379.0,94.6 L379.5,94.6 L380.0,94.6 L380.5,94.6 L381.0,94.6 L381.5,94.7 L382.0,94.7 L382.5,94.7 L383.0,94.7 L383.5,94.7 L384.0,94.7 L384.5,94.7 L385.0,94.7 L385.5,94.7 L386.0,94.7 L386.5,94.7 L387.0,94.6 L387.5,94.6 L388.0,94.6 L388.5,94.6 L389.0,94.6 L389.5,94.6 L390.0,94.6 L390.5,94.5 L391.0,94.5 L391.5,94.5 L392.0,94.5 L392.5,94.4 L393.0,94.4 L393.5,94.4 L394.0,94.3 L394.5,94.3 L395.0,94.3 L395.5,94.2 L396.0,94.2 L396.5,94.1 L397.0,94.1 L397.5,94.0 L398.0,94.0 L398.5,93.9 L399.0,93.9 L399.5,93.8 L400.0,93.8 L400.5,93.7 L401.0,93.6 L401.5,93.6 L402.0,93.5 L402.5,93.4 L403.0,93.4 L403.5,93.3 L404.0,93.2 L404.5,93.2 L405.0,93.1 L405.5,93.0 L406.0,92.9 L406.5,92.8 L407.0,92.7 L407.5,92.7 L408.0,92.6 L408.5,92.5 L409.0,92.4 L409.5,92.3 L410.0,92.2 L410.5,92.1 L411.0,92.0 L411.5,91.9 L412.0,91.8 L412.5,91.7 L413.0,91.6 L413.5,91.5 L414.0,91.4 L414.5,91.3 L415.0,91.2 L415.5,91.0 L416.0,90.9 L416.5,90.8 L417.0,90.7 L417.5,90.6 L418.0,90.5 L418.5,90.3 L419.0,90.2 L419.5,90.1 L420.0,90.0 L420.5,89.8 L421.0,89.7 L421.5,89.6 L422.0,89.5 L422.5,89.3 L423.0,89.2 L423.5,89.1 L424.0,88.9 L424.5,88.8 L425.0,88.7 L425.5,88.5 L426.0,88.4 L426.5,88.2 L427.0,88.1 L427.5,88.0 L428.0,87.8 L428.5,87.7 L429.0,87.5 L429.5,87.4 L430.0,87.2 L430.5,87.1 L431.0,86.9 L431.5,86.8 L432.0,86.6 L432.5,86.5 L433.0,86.3 L433.5,86.2 L434.0,86.0 L434.5,85.9 L435.0,85.7 L435.5,85.6 L436.0,85.4 L436.5,85.3 L437.0,85.1 L437.5,85.0 L438.0,84.8 L438.5,84.6 L439.0,84.5 L439.5,84.3 L440.0,84.2 L440.5,84.0 L441.0,83.9 L441.5,83.7 L442.0,83.6 L442.5,83.4 L443.0,83.2 L443.5,83.1 L444.0,82.9 L444.5,82.8 L445.0,82.6 L445.5,82.5 L446.0,82.3 L446.5,82.2 L447.0,82.0 L447.5,81.8 L448.0,81.7 L448.5,81.5 L449.0,81.4 L449.5,81.2 L450.0,81.1 L450.5,80.9 L451.0,80.8 L451.5,80.6 L452.0,80.5 L452.5,80.3 L453.0,80.2 L453.5,80.0 L454.0,79.9 L454.5,79.7 L455.0,79.6 L455.5,79.5 L456.0,79.3 L456.5,79.2 L457.0,79.0 L457.5,78.9 L458.0,78.8 L458.5,78.6 L459.0,78.5 L459.5,78.4 L460.0,78.2 L460.5,78.1 L461.0,78.0 L461.5,77.8 L462.0,77.7 L462.5,77.6 L463.0,77.5 L463.5,77.3 L464.0,77.2 L464.5,77.1 L465.0,77.0 L465.5,76.9 L466.0,76.8 L466.5,76.7 L467.0,76.5 L467.5,76.4 L468.0,76.3 L468.5,76.2 L469.0,76.1 L469.5,76.0 L470.0,75.9 L470.4,75.9" fill="none" stroke="#a2a2a2" stroke-width="1.5"/>
<path d="M334.5,89.3 L335.0,89.4 L335.5,89.5 L336.0,89.6 L336.5,89.7 L337.0,89.8 L337.5,89.9 L338.0,90.0 L338.5,90.1 L339.0,90.1 L339.5,90.2 L340.0,90.3 L340.5,90.4 L341.0,90.5 L341.5,90.6 L342.0,90.7 L342.5,90.7 L343.0,90.8 L343.5,90.9 L344.0,91.0 L344.5,91.1 L345.0,91.1 L345.5,91.2 L346.0,91.3 L346.5,91.4 L347.0,91.5 L347.5,91.5 L348.0,91.6 L348.5,91.7 L349.0,91.8 L349.5,91.8 L350.0,91.9 L350.5,92.0 L351.0,92.0 L351.5,92.1 L352.0,92.2 L352.5,92.3 L353.0,92.3 L353.5,92.4 L354.0,92.5 L354.5,92.5 L355.0,92.6 L355.5,92.7 L356.0,92.7 L356.5,92.8 L357.0,92.8 L357.5,92.9 L358.0,93.0 L358.5,93.0 L359.0,93.1 L359.5,93.1 L360.0,93.2 L360.5,93.2 L361.0,93.3 L361.5,93.4 L362.0,93.4 L362.5,93.5 L363.0,93.5 L363.5,93.6 L364.0,93.6 L364.5,93.7 L364.5,93.7 L364.0,93.7 L363.5,94.0 L363.0,94.3 L362.5,94.6 L362.0,94.9 L361.5,95.1 L361.0,95.4 L360.5,95.6 L360.0,95.9 L359.5,96.1 L359.0,96.4 L358.5,96.6 L358.0,96.8 L357.5,97.1 L357.0,97.3 L356.5,97.5 L356.0,97.7 L355.5,97.9 L355.0,98.1 L354.5,98.2 L354.0,98.4 L353.5,98.6 L353.0,98.7 L352.5,98.9 L352.0,99.0 L351.5,99.1 L351.0,99.3 L350.5,99.4 L350.0,99.5 L349.5,99.6 L349.0,99.7 L348.5,99.8 L348.0,99.9 L347.5,99.9 L347.0,100.0 L346.5,100.0 L346.0,100.1 L345.5,100.1 L345.0,100.2 L344.5,100.2 L344.0,100.2 L343.5,99.6 L343.0,99.1 L342.5,98.5 L342.0,97.9 L341.5,97.3 L341.0,96.8 L340.5,96.2 L340.0,95.6 L339.5,95.0 L339.0,94.4 L338.5,93.8 L338.0,93.2 L337.5,92.6 L337.0,92.0 L336.5,91.3 L336.0,90.7 L335.5,90.1 L335.0,89.5 L334.5,89.3Z" fill="#7e7e7e"/>
<path d="M308.5,84.2 L309.0,84.3 L309.5,84.4 L310.0,84.5 L310.5,84.6 L311.0,84.7 L311.5,84.8 L312.0,84.9 L312.5,85.0 L313.0,85.1 L313.5,85.2 L314.0,85.4 L314.5,85.5 L315.0,85.6 L315.5,85.7 L316.0,85.8 L316.5,85.9 L317.0,86.0 L317.5,86.1 L318.0,86.2 L318.5,86.3 L319.0,86.4 L319.5,86.5 L320.0,86.6 L320.5,86.7 L321.0,86.8 L321.5,86.9 L322.0,87.0 L322.5,87.1 L323.0,87.2 L323.5,87.3 L324.0,87.4 L324.5,87.5 L325.0,87.6 L325.5,87.7 L326.0,87.7 L326.5,87.8 L327.0,87.9 L327.5,88.0 L328.0,88.1 L328.5,88.2 L329.0,88.3 L329.5,88.4 L330.0,88.5 L330.5,88.6 L331.0,88.7 L331.5,88.8 L332.0,88.9 L332.5,89.0 L333.0,89.1 L333.5,89.2 L334.0,89.3 L334.5,89.3 L335.0,89.5 L335.5,90.1 L336.0,90.7 L336.5,91.3 L337.0,92.0 L337.5,92.6 L338.0,93.2 L338.5,93.8 L339.0,94.4 L339.5,95.0 L340.0,95.6 L340.5,96.2 L341.0,96.8 L341.5,97.3 L342.0,97.9 L342.5,98.5 L343.0,99.1 L343.5,99.6 L344.0,100.2 L344.5,100.7 L344.5,100.7 L344.0,100.2 L343.5,100.2 L343.0,100.2 L342.5,100.2 L342.0,100.2 L341.5,100.2 L341.0,100.2 L340.5,100.2 L340.0,100.1 L339.5,100.1 L339.0,100.0 L338.5,100.0 L338.0,99.9 L337.5,99.9 L337.0,99.8 L336.5,99.7 L336.0,99.6 L335.5,99.5 L335.0,99.4 L334.5,99.3 L334.0,99.2 L333.5,99.1 L333.0,98.9 L332.5,98.8 L332.0,98.7 L331.5,98.5 L331.0,98.3 L330.5,98.2 L330.0,98.0 L329.5,97.8 L329.0,97.7 L328.5,97.5 L328.0,97.3 L327.5,97.1 L327.0,96.9 L326.5,96.6 L326.0,96.4 L325.5,96.2 L325.0,96.0 L324.5,95.7 L324.0,95.5 L323.5,95.2 L323.0,94.9 L322.5,94.7 L322.0,94.4 L321.5,94.1 L321.0,93.8 L320.5,93.5 L320.0,93.2 L319.5,92.9 L319.0,92.5 L318.5,92.2 L318.0,91.9 L317.5,91.5 L317.0,91.2 L316.5,90.8 L316.0,90.4 L315.5,90.1 L315.0,89.7 L314.5,89.3 L314.0,88.9 L313.5,88.5 L313.0,88.1 L312.5,87.7 L312.0,87.2 L311.5,86.8 L311.0,86.3 L310.5,85.9 L310.0,85.4 L309.5,85.0 L309.0,84.5 L308.5,84.2Z" fill="#030303"/>
<path d="M275.8,47.3 L276.3,47.7 L276.8,48.2 L277.3,48.7 L277.8,49.1 L278.3,49.6 L278.8,50.1 L279.3,50.6 L279.8,51.1 L280.3,51.6 L280.8,52.2 L281.3,52.7 L281.8,53.2 L282.3,53.8 L282.8,54.3 L283.3,54.9 L283.8,55.4 L284.3,56.0 L284.8,56.6 L285.3,57.1 L285.8,57.7 L286.3,58.3 L286.8,58.9 L287.3,59.5 L287.8,60.1 L288.3,60.7 L288.8,61.2 L289.3,61.8 L289.8,62.4 L290.3,63.1 L290.8,63.7 L291.3,64.3 L291.8,64.9 L292.3,65.5 L292.8,66.1 L293.3,66.7 L293.8,67.3 L294.3,67.9 L294.8,68.5 L295.3,69.1 L295.8,69.7 L296.3,70.3 L296.8,70.9 L297.3,71.5 L297.8,72.1 L298.3,72.7 L298.8,73.3 L299.3,73.9 L299.8,74.5 L300.3,75.1 L300.8,75.7 L301.3,76.3 L301.8,76.8 L302.3,77.4 L302.8,78.0 L303.3,78.5 L303.8,79.1 L304.3,79.6 L304.8,80.2 L305.3,80.7 L305.8,81.2 L306.3,81.8 L306.8,82.3 L307.3,82.8 L307.8,83.3 L308.3,83.8 L308.8,84.3 L309.3,84.8 L309.8,85.2 L310.3,85.7 L310.8,86.2 L311.3,86.6 L311.8,87.1 L312.3,87.5 L312.8,87.9 L313.3,88.3 L313.8,88.7 L314.3,89.1 L314.8,89.5 L315.3,89.9 L315.8,90.3 L316.3,90.7 L316.8,91.0 L317.3,91.4 L317.8,91.7 L318.3,92.1 L318.8,92.4 L319.3,92.7 L319.8,93.1 L320.3,93.4 L320.8,93.7 L321.3,94.0 L321.8,94.3 L322.3,94.6 L322.8,94.8 L323.3,95.1 L323.8,95.4 L324.3,95.6 L324.8,95.9 L325.3,96.1 L325.8,96.3 L326.3,96.6 L326.8,96.8 L327.3,97.0 L327.8,97.2 L328.3,97.4 L328.8,97.6 L329.3,97.8 L329.8,97.9 L330.3,98.1 L330.8,98.3 L331.3,98.4 L331.8,98.6 L332.3,98.7 L332.8,98.9 L333.3,99.0 L333.8,99.1 L334.3,99.2 L334.8,99.4 L335.3,99.5 L335.8,99.6 L336.3,99.7 L336.8,99.7 L337.3,99.8 L337.8,99.9 L338.3,100.0 L338.8,100.0 L339.3,100.1 L339.8,100.1 L340.3,100.2 L340.8,100.2 L341.3,100.2 L341.8,100.2 L342.3,100.2 L342.8,100.2 L343.3,100.2 L343.8,100.2 L344.3,100.2 L344.8,100.2 L345.3,100.2 L345.8,100.1 L346.3,100.1 L346.8,100.0 L347.3,100.0 L347.8,99.9 L348.3,99.8 L348.8,99.7 L349.3,99.6 L349.8,99.5 L350.3,99.4 L350.8,99.3 L351.3,99.2 L351.8,99.1 L352.3,98.9 L352.8,98.8 L353.3,98.6 L353.8,98.5 L354.3,98.3 L354.8,98.1 L355.3,98.0 L355.8,97.8 L356.3,97.6 L356.8,97.4 L357.3,97.1 L357.8,96.9 L358.3,96.7 L358.8,96.5 L359.3,96.2 L359.8,96.0 L360.3,95.7 L360.8,95.5 L361.3,95.2 L361.8,95.0 L362.3,94.7 L362.8,94.4 L363.3,94.1 L363.8,93.9 L364.3,93.6 L364.8,93.3 L365.3,93.0 L365.8,92.7 L366.3,92.4 L366.8,92.1 L367.3,91.8 L367.8,91.5 L368.3,91.2 L368.8,90.9 L369.3,90.6 L369.8,90.3 L370.3,90.0 L370.8,89.6 L371.3,89.3 L371.8,89.0 L372.3,88.7 L372.8,88.3 L373.3,88.0 L373.8,87.7 L374.3,87.4 L374.8,87.0 L375.3,86.7 L375.8,86.3 L376.3,86.0 L376.8,85.7 L377.3,85.3 L377.8,85.0 L378.3,84.6 L378.8,84.3 L379.3,83.9 L379.8,83.6 L380.3,83.2 L380.8,82.9 L381.3,82.5 L381.8,82.2 L382.3,81.8 L382.8,81.4 L383.3,81.1 L383.8,80.7 L384.3,80.4 L384.8,80.0 L385.3,79.6 L385.8,79.2 L386.3,78.9 L386.8,78.5 L387.3,78.1 L387.8,77.8 L388.3,77.4 L388.8,77.0 L389.3,76.6 L389.8,76.3 L390.3,75.9 L390.8,75.5 L391.3,75.1 L391.8,74.7 L392.3,74.4 L392.8,74.0 L393.3,73.6 L393.8,73.2 L394.3,72.8 L394.8,72.4 L395.3,72.1 L395.8,71.7 L396.3,71.3 L396.8,70.9 L397.3,70.5 L397.8,70.1 L398.3,69.7 L398.8,69.3 L399.3,68.9 L399.8,68.6 L400.3,68.2 L400.8,67.8 L401.3,67.4 L401.8,67.0 L402.3,66.6 L402.8,66.2 L403.3,65.8 L403.8,65.4 L404.3,65.0 L404.8,64.6 L405.3,64.2 L405.8,63.8 L406.3,63.4 L406.8,63.0 L407.3,62.6 L407.8,62.2 L408.3,61.8 L408.8,61.4 L409.3,61.0 L409.8,60.6 L410.3,60.1 L410.8,59.7 L411.3,59.3 L411.8,58.9 L412.3,58.5 L412.8,58.1 L413.3,57.6 L413.8,57.2 L414.3,56.8 L414.8,56.4 L415.3,55.9 L415.8,55.5 L416.3,55.1 L416.8,54.7 L417.3,54.2 L417.8,53.8 L418.3,53.3 L418.8,52.9 L419.3,52.5 L419.8,52.0 L420.3,51.6 L420.8,51.1 L421.3,50.7 L421.8,50.2 L421.9,50.1" fill="none" stroke="#252525" stroke-width="1.35"/>
<path d="M305.8,47.7 L306.3,48.5 L306.8,49.2 L307.3,50.0 L307.8,50.7 L308.3,51.5 L308.8,52.3 L309.3,53.0 L309.8,53.8 L310.3,54.5 L310.8,55.3 L311.3,56.0 L311.8,56.8 L312.3,57.5 L312.8,58.3 L313.3,59.0 L313.8,59.8 L314.3,60.5 L314.8,61.3 L315.3,62.0 L315.8,62.8 L316.3,63.5 L316.8,64.2 L317.3,65.0 L317.8,65.7 L318.3,66.4 L318.8,67.2 L319.3,67.9 L319.8,68.6 L320.3,69.4 L320.8,70.1 L321.3,70.8 L321.8,71.5 L322.3,72.2 L322.8,73.0 L323.3,73.7 L323.8,74.4 L324.3,75.1 L324.8,75.8 L325.3,76.5 L325.8,77.2 L326.3,77.9 L326.8,78.6 L327.3,79.3 L327.8,79.9 L328.3,80.6 L328.8,81.3 L329.3,82.0 L329.8,82.7 L330.3,83.3 L330.8,84.0 L331.3,84.7 L331.8,85.3 L332.3,86.0 L332.8,86.6 L333.3,87.3 L333.8,87.9 L334.3,88.6 L334.8,89.2 L335.3,89.8 L335.8,90.5 L336.3,91.1 L336.8,91.7 L337.3,92.3 L337.8,92.9 L338.3,93.6 L338.8,94.2 L339.3,94.8 L339.8,95.4 L340.3,95.9 L340.8,96.5 L341.3,97.1 L341.8,97.7 L342.3,98.3 L342.8,98.8 L343.3,99.4 L343.8,99.9 L344.3,100.5 L344.8,101.0 L345.3,101.6 L345.8,102.1 L346.3,102.6 L346.8,103.2 L347.3,103.7 L347.8,104.2 L348.3,104.7 L348.8,105.2 L349.3,105.7 L349.8,106.2 L350.3,106.7 L350.8,107.2 L351.3,107.6 L351.8,108.1 L352.3,108.6 L352.8,109.0 L353.3,109.5 L353.8,109.9 L354.3,110.4 L354.8,110.8 L355.3,111.2 L355.8,111.6 L356.3,112.0 L356.8,112.4 L357.3,112.8 L357.8,113.2 L358.3,113.6 L358.8,114.0 L359.3,114.4 L359.8,114.7 L360.3,115.1 L360.8,115.4 L361.3,115.8 L361.8,116.1 L362.3,116.4 L362.8,116.8 L363.3,117.1 L363.8,117.4 L364.3,117.7 L364.8,118.0 L365.3,118.2 L365.8,118.5 L366.3,118.8 L366.8,119.0 L367.3,119.3 L367.8,119.5 L368.3,119.8 L368.8,120.0 L369.3,120.2 L369.8,120.4 L370.3,120.6 L370.8,120.8 L371.3,121.0 L371.8,121.2 L372.3,121.3 L372.8,121.5 L373.3,121.6 L373.8,121.8 L374.3,121.9 L374.8,122.0 L375.3,122.2 L375.8,122.3 L376.3,122.4 L376.8,122.4 L377.3,122.5 L377.8,122.6 L378.3,122.6 L378.8,122.7 L379.3,122.7 L379.8,122.8 L380.3,122.8 L380.8,122.8 L381.3,122.8 L381.8,122.8 L382.3,122.8 L382.8,122.8 L383.3,122.7 L383.8,122.7 L384.3,122.6 L384.8,122.5 L385.3,122.5 L385.8,122.4 L386.3,122.3 L386.8,122.2 L387.3,122.0 L387.8,121.9 L388.3,121.8 L388.8,121.6 L389.3,121.5 L389.8,121.3 L390.3,121.1 L390.8,120.9 L391.3,120.7 L391.8,120.5 L392.3,120.3 L392.8,120.1 L393.3,119.8 L393.8,119.6 L394.3,119.3 L394.8,119.1 L395.3,118.8 L395.8,118.5 L396.3,118.3 L396.8,118.0 L397.3,117.7 L397.8,117.4 L398.3,117.1 L398.8,116.8 L399.3,116.4 L399.8,116.1 L400.3,115.8 L400.8,115.4 L401.3,115.1 L401.8,114.8 L402.3,114.4 L402.8,114.1 L403.3,113.7 L403.8,113.3 L404.3,113.0 L404.8,112.6 L405.3,112.2 L405.8,111.9 L406.3,111.5 L406.8,111.1 L407.3,110.7 L407.8,110.3 L408.3,109.9 L408.8,109.5 L409.3,109.2 L409.8,108.8 L410.3,108.4 L410.8,108.0 L411.3,107.6 L411.8,107.2 L412.3,106.8 L412.8,106.4 L413.3,106.0 L413.8,105.6 L414.3,105.2 L414.8,104.8 L415.3,104.4 L415.8,103.9 L416.3,103.5 L416.8,103.1 L417.3,102.7 L417.8,102.3 L418.3,101.9 L418.8,101.5 L419.3,101.0 L419.8,100.6 L420.3,100.2 L420.8,99.8 L421.3,99.3 L421.8,98.9 L422.3,98.5 L422.8,98.1 L423.3,97.6 L423.8,97.2 L424.3,96.8 L424.8,96.3 L425.3,95.9 L425.8,95.4 L426.3,95.0 L426.8,94.5 L427.3,94.1 L427.8,93.6 L428.3,93.2 L428.8,92.7 L429.3,92.3 L429.8,91.8 L430.3,91.4 L430.8,90.9 L431.3,90.4 L431.8,90.0 L432.3,89.5 L432.8,89.0 L433.3,88.6 L433.8,88.1 L434.3,87.6 L434.8,87.1 L435.3,86.6 L435.8,86.2 L436.3,85.7 L436.8,85.2 L437.3,84.7 L437.8,84.2 L438.3,83.7 L438.8,83.2 L439.3,82.7 L439.8,82.2 L440.3,81.7 L440.8,81.2 L441.3,80.6 L441.8,80.1 L442.3,79.6 L442.8,79.1 L443.3,78.6 L443.8,78.0 L444.3,77.5 L444.8,77.0 L445.3,76.5 L445.8,75.9 L446.3,75.4 L446.8,74.9 L447.3,74.3 L447.8,73.8 L448.3,73.3 L448.8,72.7 L449.3,72.2 L449.8,71.6 L450.3,71.1 L450.8,70.6 L451.3,70.0 L451.8,69.5 L452.3,68.9 L452.8,68.4 L453.3,67.8 L453.8,67.3 L454.3,66.8 L454.8,66.2 L455.3,65.7 L455.8,65.1 L456.3,64.6 L456.8,64.0 L457.3,63.5 L457.8,62.9 L458.3,62.4 L458.8,61.8 L459.3,61.3 L459.8,60.8 L460.3,60.2 L460.8,59.7 L461.3,59.2 L461.8,58.7 L462.3,58.2 L462.8,57.7 L463.3,57.2 L463.8,56.7 L464.3,56.3 L464.8,55.8 L465.3,55.4 L465.8,55.0 L466.3,54.6 L466.8,54.3 L467.3,54.0 L467.8,53.7 L468.3,53.4 L468.8,53.1 L469.3,52.9 L469.8,52.7 L470.3,52.6 L470.8,52.4 L471.0,52.4" fill="none" stroke="#fff" stroke-width="2.0"/>
<path d="M305.8,47.7 L306.3,48.5 L306.8,49.2 L307.3,50.0 L307.8,50.7 L308.3,51.5 L308.8,52.3 L309.3,53.0 L309.8,53.8 L310.3,54.5 L310.8,55.3 L311.3,56.0 L311.8,56.8 L312.3,57.5 L312.8,58.3 L313.3,59.0 L313.8,59.8 L314.3,60.5 L314.8,61.3 L315.3,62.0 L315.8,62.8 L316.3,63.5 L316.8,64.2 L317.3,65.0 L317.8,65.7 L318.3,66.4 L318.8,67.2 L319.3,67.9 L319.8,68.6 L320.3,69.4 L320.8,70.1 L321.3,70.8 L321.8,71.5 L322.3,72.2 L322.8,73.0 L323.3,73.7 L323.8,74.4 L324.3,75.1 L324.8,75.8 L325.3,76.5 L325.8,77.2 L326.3,77.9 L326.8,78.6 L327.3,79.3 L327.8,79.9 L328.3,80.6 L328.8,81.3 L329.3,82.0 L329.8,82.7 L330.3,83.3 L330.8,84.0 L331.3,84.7 L331.8,85.3 L332.3,86.0 L332.8,86.6 L333.3,87.3 L333.8,87.9 L334.3,88.6 L334.8,89.2 L335.3,89.8 L335.8,90.5 L336.3,91.1 L336.8,91.7 L337.3,92.3 L337.8,92.9 L338.3,93.6 L338.8,94.2 L339.3,94.8 L339.8,95.4 L340.3,95.9 L340.8,96.5 L341.3,97.1 L341.8,97.7 L342.3,98.3 L342.8,98.8 L343.3,99.4 L343.8,99.9 L344.3,100.5 L344.8,101.0 L345.3,101.6 L345.8,102.1 L346.3,102.6 L346.8,103.2 L347.3,103.7 L347.8,104.2 L348.3,104.7 L348.8,105.2 L349.3,105.7 L349.8,106.2 L350.3,106.7 L350.8,107.2 L351.3,107.6 L351.8,108.1 L352.3,108.6 L352.8,109.0 L353.3,109.5 L353.8,109.9 L354.3,110.4 L354.8,110.8 L355.3,111.2 L355.8,111.6 L356.3,112.0 L356.8,112.4 L357.3,112.8 L357.8,113.2 L358.3,113.6 L358.8,114.0 L359.3,114.4 L359.8,114.7 L360.3,115.1 L360.8,115.4 L361.3,115.8 L361.8,116.1 L362.3,116.4 L362.8,116.8 L363.3,117.1 L363.8,117.4 L364.3,117.7 L364.8,118.0 L365.3,118.2 L365.8,118.5 L366.3,118.8 L366.8,119.0 L367.3,119.3 L367.8,119.5 L368.3,119.8 L368.8,120.0 L369.3,120.2 L369.8,120.4 L370.3,120.6 L370.8,120.8 L371.3,121.0 L371.8,121.2 L372.3,121.3 L372.8,121.5 L373.3,121.6 L373.8,121.8 L374.3,121.9 L374.8,122.0 L375.3,122.2 L375.8,122.3 L376.3,122.4 L376.8,122.4 L377.3,122.5 L377.8,122.6 L378.3,122.6 L378.8,122.7 L379.3,122.7 L379.8,122.8 L380.3,122.8 L380.8,122.8 L381.3,122.8 L381.8,122.8 L382.3,122.8 L382.8,122.8 L383.3,122.7 L383.8,122.7 L384.3,122.6 L384.8,122.5 L385.3,122.5 L385.8,122.4 L386.3,122.3 L386.8,122.2 L387.3,122.0 L387.8,121.9 L388.3,121.8 L388.8,121.6 L389.3,121.5 L389.8,121.3 L390.3,121.1 L390.8,120.9 L391.3,120.7 L391.8,120.5 L392.3,120.3 L392.8,120.1 L393.3,119.8 L393.8,119.6 L394.3,119.3 L394.8,119.1 L395.3,118.8 L395.8,118.5 L396.3,118.3 L396.8,118.0 L397.3,117.7 L397.8,117.4 L398.3,117.1 L398.8,116.8 L399.3,116.4 L399.8,116.1 L400.3,115.8 L400.8,115.4 L401.3,115.1 L401.8,114.8 L402.3,114.4 L402.8,114.1 L403.3,113.7 L403.8,113.3 L404.3,113.0 L404.8,112.6 L405.3,112.2 L405.8,111.9 L406.3,111.5 L406.8,111.1 L407.3,110.7 L407.8,110.3 L408.3,109.9 L408.8,109.5 L409.3,109.2 L409.8,108.8 L410.3,108.4 L410.8,108.0 L411.3,107.6 L411.8,107.2 L412.3,106.8 L412.8,106.4 L413.3,106.0 L413.8,105.6 L414.3,105.2 L414.8,104.8 L415.3,104.4 L415.8,103.9 L416.3,103.5 L416.8,103.1 L417.3,102.7 L417.8,102.3 L418.3,101.9 L418.8,101.5 L419.3,101.0 L419.8,100.6 L420.3,100.2 L420.8,99.8 L421.3,99.3 L421.8,98.9 L422.3,98.5 L422.8,98.1 L423.3,97.6 L423.8,97.2 L424.3,96.8 L424.8,96.3 L425.3,95.9 L425.8,95.4 L426.3,95.0 L426.8,94.5 L427.3,94.1 L427.8,93.6 L428.3,93.2 L428.8,92.7 L429.3,92.3 L429.8,91.8 L430.3,91.4 L430.8,90.9 L431.3,90.4 L431.8,90.0 L432.3,89.5 L432.8,89.0 L433.3,88.6 L433.8,88.1 L434.3,87.6 L434.8,87.1 L435.3,86.6 L435.8,86.2 L436.3,85.7 L436.8,85.2 L437.3,84.7 L437.8,84.2 L438.3,83.7 L438.8,83.2 L439.3,82.7 L439.8,82.2 L440.3,81.7 L440.8,81.2 L441.3,80.6 L441.8,80.1 L442.3,79.6 L442.8,79.1 L443.3,78.6 L443.8,78.0 L444.3,77.5 L444.8,77.0 L445.3,76.5 L445.8,75.9 L446.3,75.4 L446.8,74.9 L447.3,74.3 L447.8,73.8 L448.3,73.3 L448.8,72.7 L449.3,72.2 L449.8,71.6 L450.3,71.1 L450.8,70.6 L451.3,70.0 L451.8,69.5 L452.3,68.9 L452.8,68.4 L453.3,67.8 L453.8,67.3 L454.3,66.8 L454.8,66.2 L455.3,65.7 L455.8,65.1 L456.3,64.6 L456.8,64.0 L457.3,63.5 L457.8,62.9 L458.3,62.4 L458.8,61.8 L459.3,61.3 L459.8,60.8 L460.3,60.2 L460.8,59.7 L461.3,59.2 L461.8,58.7 L462.3,58.2 L462.8,57.7 L463.3,57.2 L463.8,56.7 L464.3,56.3 L464.8,55.8 L465.3,55.4 L465.8,55.0 L466.3,54.6 L466.8,54.3 L467.3,54.0 L467.8,53.7 L468.3,53.4 L468.8,53.1 L469.3,52.9 L469.8,52.7 L470.3,52.6 L470.8,52.4 L471.0,52.4" fill="none" stroke="#404040" stroke-width="1.45" stroke-dasharray="2.7 2.0"/>
<path d="M51.5,257.4 L52.0,257.5 L52.5,257.6 L53.0,257.7 L53.5,257.8 L54.0,257.9 L54.5,258.0 L55.0,258.1 L55.5,258.2 L56.0,258.3 L56.5,258.4 L57.0,258.5 L57.5,258.6 L58.0,258.7 L58.5,258.8 L59.0,258.9 L59.5,259.0 L60.0,259.1 L60.5,259.2 L61.0,259.3 L61.5,259.4 L62.0,259.5 L62.5,259.6 L63.0,259.7 L63.5,259.8 L64.0,259.9 L64.5,260.0 L65.0,260.2 L65.5,260.7 L66.0,261.4 L66.5,262.0 L67.0,262.7 L67.5,263.3 L68.0,264.0 L68.5,264.6 L69.0,265.3 L69.5,265.9 L70.0,266.6 L70.5,267.2 L71.0,267.8 L71.5,268.5 L72.0,269.1 L72.5,269.7 L73.0,270.3 L73.5,270.9 L74.0,271.5 L74.5,272.1 L75.0,272.7 L75.5,273.3 L76.0,273.8 L76.5,274.4 L77.0,275.0 L77.5,275.5 L78.0,276.1 L78.5,276.7 L79.0,277.2 L79.5,277.7 L80.0,278.3 L80.5,278.8 L81.0,279.3 L81.5,279.9 L82.0,280.4 L82.5,280.9 L83.0,281.4 L83.5,281.9 L84.0,282.4 L84.5,282.9 L85.0,283.4 L85.5,283.9 L86.0,284.4 L86.5,284.8 L87.0,285.3 L87.5,285.8 L88.0,286.2 L88.5,286.7 L89.0,287.1 L89.5,287.6 L90.0,288.0 L90.5,288.5 L91.0,288.9 L91.5,289.3 L92.0,289.8 L92.0,289.8 L91.5,289.6 L91.0,289.5 L90.5,289.4 L90.0,289.2 L89.5,289.1 L89.0,288.9 L88.5,288.7 L88.0,288.5 L87.5,288.4 L87.0,288.2 L86.5,288.0 L86.0,287.8 L85.5,287.6 L85.0,287.3 L84.5,287.1 L84.0,286.9 L83.5,286.6 L83.0,286.4 L82.5,286.1 L82.0,285.9 L81.5,285.6 L81.0,285.3 L80.5,285.0 L80.0,284.7 L79.5,284.4 L79.0,284.1 L78.5,283.8 L78.0,283.5 L77.5,283.2 L77.0,282.8 L76.5,282.5 L76.0,282.1 L75.5,281.8 L75.0,281.4 L74.5,281.0 L74.0,280.7 L73.5,280.3 L73.0,279.9 L72.5,279.5 L72.0,279.1 L71.5,278.7 L71.0,278.2 L70.5,277.8 L70.0,277.4 L69.5,276.9 L69.0,276.5 L68.5,276.0 L68.0,275.6 L67.5,275.1 L67.0,274.6 L66.5,274.2 L66.0,273.7 L65.5,273.2 L65.0,272.7 L64.5,272.2 L64.0,271.6 L63.5,271.1 L63.0,270.6 L62.5,270.1 L62.0,269.5 L61.5,269.0 L61.0,268.4 L60.5,267.9 L60.0,267.3 L59.5,266.7 L59.0,266.2 L58.5,265.6 L58.0,265.0 L57.5,264.4 L57.0,263.8 L56.5,263.2 L56.0,262.6 L55.5,262.0 L55.0,261.4 L54.5,260.8 L54.0,260.2 L53.5,259.6 L53.0,259.0 L52.5,258.3 L52.0,257.7 L51.5,257.4Z" fill="#c7c7c7"/>
<path d="M15.0,251.0 L15.5,251.0 L16.0,251.1 L16.5,251.2 L17.0,251.2 L17.5,251.3 L18.0,251.4 L18.5,251.5 L19.0,251.5 L19.5,251.6 L20.0,251.7 L20.5,251.7 L21.0,251.8 L21.5,251.9 L22.0,252.0 L22.5,252.1 L23.0,252.1 L23.5,252.2 L24.0,252.3 L24.5,252.4 L25.0,252.5 L25.5,252.5 L26.0,252.6 L26.5,252.7 L27.0,252.8 L27.5,252.9 L28.0,253.0 L28.5,253.0 L29.0,253.1 L29.5,253.2 L30.0,253.3 L30.5,253.4 L31.0,253.5 L31.5,253.6 L32.0,253.6 L32.5,253.7 L33.0,253.8 L33.5,253.9 L34.0,254.0 L34.5,254.1 L35.0,254.2 L35.5,254.3 L36.0,254.4 L36.5,254.5 L37.0,254.6 L37.5,254.7 L38.0,254.7 L38.5,254.8 L39.0,254.9 L39.5,255.0 L40.0,255.1 L40.5,255.2 L41.0,255.3 L41.5,255.4 L42.0,255.5 L42.5,255.6 L43.0,255.7 L43.5,255.8 L44.0,255.9 L44.5,256.0 L45.0,256.1 L45.5,256.2 L46.0,256.3 L46.5,256.4 L47.0,256.5 L47.5,256.6 L48.0,256.7 L48.5,256.8 L49.0,256.9 L49.5,257.0 L50.0,257.1 L50.5,257.2 L51.0,257.3 L51.5,257.4 L52.0,257.5 L52.5,257.6 L53.0,257.7 L53.5,257.8 L54.0,257.9 L54.5,258.0 L55.0,258.1 L55.5,258.2 L56.0,258.3 L56.5,258.4 L57.0,258.5 L57.5,258.6 L58.0,258.7 L58.5,258.8 L59.0,258.9 L59.5,259.0 L60.0,259.1 L60.5,259.2 L61.0,259.3 L61.5,259.4 L62.0,259.5 L62.5,259.6 L63.0,259.7 L63.5,259.8 L64.0,259.9 L64.5,260.0 L65.0,260.2 L65.5,260.3 L66.0,260.4 L66.5,260.5 L67.0,260.6 L67.5,260.7 L68.0,260.8 L68.5,260.9 L69.0,261.0 L69.5,261.1 L70.0,261.2 L70.5,261.3 L71.0,261.4 L71.5,261.5 L72.0,261.6 L72.5,261.7 L73.0,261.8 L73.5,261.9 L74.0,262.0 L74.5,262.1 L75.0,262.2 L75.5,262.3 L76.0,262.4 L76.5,262.5 L77.0,262.5 L77.5,262.6 L78.0,262.7 L78.5,262.8 L79.0,262.9 L79.5,263.0 L80.0,263.1 L80.5,263.2 L81.0,263.3 L81.5,263.4 L82.0,263.5 L82.5,263.6 L83.0,263.7 L83.5,263.8 L84.0,263.9 L84.5,264.0 L85.0,264.1 L85.5,264.1 L86.0,264.2 L86.5,264.3 L87.0,264.4 L87.5,264.5 L88.0,264.6 L88.5,264.7 L89.0,264.8 L89.5,264.9 L90.0,264.9 L90.5,265.0 L91.0,265.1 L91.5,265.2 L92.0,265.3 L92.5,265.4 L93.0,265.5 L93.5,265.5 L94.0,265.6 L94.5,265.7 L95.0,265.8 L95.5,265.9 L96.0,265.9 L96.5,266.0 L97.0,266.1 L97.5,266.2 L98.0,266.3 L98.5,266.3 L99.0,266.4 L99.5,266.5 L100.0,266.6 L100.5,266.6 L101.0,266.7 L101.5,266.8 L102.0,266.8 L102.5,266.9 L103.0,267.0 L103.5,267.1 L104.0,267.1 L104.5,267.2 L105.0,267.3 L105.5,267.3 L106.0,267.4 L106.5,267.5 L107.0,267.5 L107.5,267.6 L108.0,267.6 L108.5,267.7 L109.0,267.8 L109.5,267.8 L110.0,267.9 L110.5,267.9 L111.0,268.0 L111.5,268.0 L112.0,268.1 L112.5,268.2 L113.0,268.2 L113.5,268.3 L114.0,268.3 L114.5,268.4 L115.0,268.4 L115.5,268.5 L116.0,268.5 L116.5,268.6 L117.0,268.6 L117.5,268.6 L118.0,268.7 L118.5,268.7 L119.0,268.8 L119.5,268.8 L120.0,268.8 L120.5,268.9 L121.0,268.9 L121.5,269.0 L122.0,269.0 L122.5,269.0 L123.0,269.1 L123.5,269.1 L124.0,269.1 L124.5,269.2 L125.0,269.2 L125.5,269.2 L126.0,269.2 L126.5,269.3 L127.0,269.3 L127.5,269.3 L128.0,269.3 L128.5,269.3 L129.0,269.4 L129.5,269.4 L130.0,269.4 L130.5,269.4 L131.0,269.4 L131.5,269.4 L132.0,269.4 L132.5,269.5 L133.0,269.5 L133.5,269.5 L134.0,269.5 L134.5,269.5 L135.0,269.5 L135.5,269.5 L136.0,269.5 L136.5,269.5 L137.0,269.5 L137.5,269.5 L138.0,269.4 L138.5,269.4 L139.0,269.4 L139.5,269.4 L140.0,269.4 L140.5,269.4 L141.0,269.4 L141.5,269.3 L142.0,269.3 L142.5,269.3 L143.0,269.3 L143.5,269.2 L144.0,269.2 L144.5,269.2 L145.0,269.1 L145.5,269.1 L146.0,269.1 L146.5,269.0 L147.0,269.0 L147.5,268.9 L148.0,268.9 L148.5,268.8 L149.0,268.8 L149.5,268.7 L150.0,268.7 L150.5,268.6 L151.0,268.6 L151.5,268.5 L152.0,268.4 L152.5,268.4 L153.0,268.3 L153.5,268.2 L154.0,268.2 L154.5,268.1 L155.0,268.0 L155.5,268.0 L156.0,267.9 L156.5,267.8 L157.0,267.7 L157.5,267.6 L158.0,267.5 L158.5,267.5 L159.0,267.4 L159.5,267.3 L160.0,267.2 L160.5,267.1 L161.0,267.0 L161.5,266.9 L162.0,266.8 L162.5,266.7 L163.0,266.6 L163.5,266.5 L164.0,266.4 L164.5,266.3 L165.0,266.2 L165.5,266.1 L166.0,266.0 L166.5,265.8 L167.0,265.7 L167.5,265.6 L168.0,265.5 L168.5,265.4 L169.0,265.3 L169.5,265.1 L170.0,265.0 L170.5,264.9 L171.0,264.8 L171.5,264.6 L172.0,264.5 L172.5,264.4 L173.0,264.3 L173.5,264.1 L174.0,264.0 L174.5,263.9 L175.0,263.7 L175.5,263.6 L176.0,263.5 L176.5,263.3 L177.0,263.2 L177.5,263.0 L178.0,262.9 L178.5,262.8 L179.0,262.6 L179.5,262.5 L180.0,262.3 L180.5,262.2 L181.0,262.0 L181.5,261.9 L182.0,261.7 L182.5,261.6 L183.0,261.4 L183.5,261.3 L184.0,261.1 L184.5,261.0 L185.0,260.8 L185.5,260.7 L186.0,260.5 L186.5,260.4 L187.0,260.2 L187.5,260.1 L188.0,259.9 L188.5,259.8 L189.0,259.6 L189.5,259.4 L190.0,259.3 L190.5,259.1 L191.0,259.0 L191.5,258.8 L192.0,258.7 L192.5,258.5 L193.0,258.4 L193.5,258.2 L194.0,258.0 L194.5,257.9 L195.0,257.7 L195.5,257.6 L196.0,257.4 L196.5,257.3 L197.0,257.1 L197.5,257.0 L198.0,256.8 L198.5,256.6 L199.0,256.5 L199.5,256.3 L200.0,256.2 L200.5,256.0 L201.0,255.9 L201.5,255.7 L202.0,255.6 L202.5,255.4 L203.0,255.3 L203.5,255.1 L204.0,255.0 L204.5,254.8 L205.0,254.7 L205.5,254.5 L206.0,254.4 L206.5,254.3 L207.0,254.1 L207.5,254.0 L208.0,253.8 L208.5,253.7 L209.0,253.6 L209.5,253.4 L210.0,253.3 L210.5,253.2 L211.0,253.0 L211.5,252.9 L212.0,252.8 L212.5,252.6 L213.0,252.5 L213.5,252.4 L214.0,252.3 L214.5,252.1 L215.0,252.0 L215.5,251.9 L216.0,251.8 L216.5,251.7 L217.0,251.6 L217.5,251.5 L218.0,251.3 L218.5,251.2 L219.0,251.1 L219.5,251.0 L220.0,250.9 L220.5,250.8 L221.0,250.7 L221.4,250.7" fill="none" stroke="#a2a2a2" stroke-width="1.5"/>
<path d="M65.0,260.2 L65.5,260.3 L66.0,260.4 L66.5,260.5 L67.0,260.6 L67.5,260.7 L68.0,260.8 L68.5,260.9 L69.0,261.0 L69.5,261.1 L70.0,261.2 L70.5,261.3 L71.0,261.4 L71.5,261.5 L72.0,261.6 L72.5,261.7 L73.0,261.8 L73.5,261.9 L74.0,262.0 L74.5,262.1 L75.0,262.2 L75.5,262.3 L76.0,262.4 L76.5,262.5 L77.0,262.5 L77.5,262.6 L78.0,262.7 L78.5,262.8 L79.0,262.9 L79.5,263.0 L80.0,263.1 L80.5,263.2 L81.0,263.3 L81.5,263.4 L82.0,263.5 L82.5,263.6 L83.0,263.7 L83.5,263.8 L84.0,263.9 L84.5,264.0 L85.0,264.1 L85.5,264.1 L86.0,264.2 L86.5,264.3 L87.0,264.4 L87.5,264.5 L88.0,264.6 L88.5,264.7 L89.0,264.8 L89.5,264.9 L90.0,264.9 L90.5,265.0 L91.0,265.1 L91.5,265.2 L92.0,265.3 L92.5,265.4 L93.0,265.5 L93.5,265.5 L94.0,265.6 L94.5,265.7 L95.0,265.8 L95.5,265.9 L96.0,265.9 L96.5,266.0 L97.0,266.1 L97.5,266.2 L98.0,266.3 L98.5,266.3 L99.0,266.4 L99.5,266.5 L100.0,266.6 L100.5,266.6 L101.0,266.7 L101.5,266.8 L102.0,266.8 L102.5,266.9 L103.0,267.0 L103.5,267.1 L104.0,267.1 L104.5,267.2 L105.0,267.3 L105.5,267.3 L106.0,267.4 L106.5,267.5 L107.0,267.5 L107.5,267.6 L108.0,267.6 L108.5,267.7 L109.0,267.8 L109.5,267.8 L110.0,267.9 L110.5,267.9 L111.0,268.0 L111.5,268.0 L112.0,268.1 L112.5,268.2 L113.0,268.2 L113.5,268.3 L114.0,268.3 L114.5,268.4 L115.0,268.4 L115.5,268.5 L116.0,268.5 L116.5,268.6 L117.0,268.6 L117.5,268.6 L118.0,268.7 L118.5,268.7 L119.0,268.8 L119.5,268.8 L120.0,268.8 L120.5,268.9 L121.0,268.9 L121.5,269.0 L122.0,269.0 L122.5,269.0 L123.0,269.1 L123.5,269.1 L124.0,269.1 L124.5,269.2 L125.0,269.2 L125.5,269.2 L126.0,269.2 L126.5,269.3 L127.0,269.3 L127.5,269.3 L128.0,269.3 L128.5,269.3 L129.0,269.4 L129.5,269.4 L130.0,269.4 L130.5,269.4 L131.0,269.4 L131.5,269.4 L132.0,269.4 L132.5,269.5 L133.0,269.5 L133.5,269.5 L134.0,269.5 L134.5,269.5 L135.0,269.5 L135.5,269.5 L136.0,269.5 L136.5,269.5 L137.0,269.5 L137.5,269.5 L138.0,269.4 L138.5,269.4 L139.0,269.4 L139.5,269.4 L140.0,269.4 L140.5,269.4 L140.5,269.4 L140.0,269.6 L139.5,270.0 L139.0,270.4 L138.5,270.9 L138.0,271.3 L137.5,271.7 L137.0,272.2 L136.5,272.6 L136.0,273.0 L135.5,273.4 L135.0,273.8 L134.5,274.2 L134.0,274.7 L133.5,275.1 L133.0,275.5 L132.5,275.9 L132.0,276.3 L131.5,276.7 L131.0,277.1 L130.5,277.4 L130.0,277.8 L129.5,278.2 L129.0,278.6 L128.5,279.0 L128.0,279.3 L127.5,279.7 L127.0,280.1 L126.5,280.4 L126.0,280.8 L125.5,281.1 L125.0,281.5 L124.5,281.8 L124.0,282.1 L123.5,282.5 L123.0,282.8 L122.5,283.1 L122.0,283.4 L121.5,283.7 L121.0,284.0 L120.5,284.3 L120.0,284.6 L119.5,284.9 L119.0,285.2 L118.5,285.5 L118.0,285.7 L117.5,286.0 L117.0,286.2 L116.5,286.5 L116.0,286.7 L115.5,287.0 L115.0,287.2 L114.5,287.4 L114.0,287.6 L113.5,287.9 L113.0,288.1 L112.5,288.3 L112.0,288.5 L111.5,288.6 L111.0,288.8 L110.5,289.0 L110.0,289.1 L109.5,289.3 L109.0,289.4 L108.5,289.6 L108.0,289.7 L107.5,289.8 L107.0,289.9 L106.5,290.0 L106.0,290.1 L105.5,290.2 L105.0,290.3 L104.5,290.4 L104.0,290.5 L103.5,290.5 L103.0,290.6 L102.5,290.6 L102.0,290.6 L101.5,290.7 L101.0,290.7 L100.5,290.7 L100.0,290.7 L99.5,290.7 L99.0,290.7 L98.5,290.7 L98.0,290.7 L97.5,290.6 L97.0,290.6 L96.5,290.5 L96.0,290.5 L95.5,290.4 L95.0,290.3 L94.5,290.3 L94.0,290.2 L93.5,290.1 L93.0,290.0 L92.5,289.9 L92.0,289.8 L91.5,289.3 L91.0,288.9 L90.5,288.5 L90.0,288.0 L89.5,287.6 L89.0,287.1 L88.5,286.7 L88.0,286.2 L87.5,285.8 L87.0,285.3 L86.5,284.8 L86.0,284.4 L85.5,283.9 L85.0,283.4 L84.5,282.9 L84.0,282.4 L83.5,281.9 L83.0,281.4 L82.5,280.9 L82.0,280.4 L81.5,279.9 L81.0,279.3 L80.5,278.8 L80.0,278.3 L79.5,277.7 L79.0,277.2 L78.5,276.7 L78.0,276.1 L77.5,275.5 L77.0,275.0 L76.5,274.4 L76.0,273.8 L75.5,273.3 L75.0,272.7 L74.5,272.1 L74.0,271.5 L73.5,270.9 L73.0,270.3 L72.5,269.7 L72.0,269.1 L71.5,268.5 L71.0,267.8 L70.5,267.2 L70.0,266.6 L69.5,265.9 L69.0,265.3 L68.5,264.6 L68.0,264.0 L67.5,263.3 L67.0,262.7 L66.5,262.0 L66.0,261.4 L65.5,260.7 L65.0,260.2Z" fill="#7e7e7e"/>
<path d="M91.5,289.6 L92.0,289.8 L92.5,289.9 L93.0,290.0 L93.5,290.1 L94.0,290.2 L94.5,290.3 L95.0,290.3 L95.5,290.4 L96.0,290.5 L96.5,290.5 L97.0,290.6 L97.5,290.6 L98.0,290.7 L98.5,290.7 L99.0,290.7 L99.5,290.7 L100.0,290.7 L100.5,290.7 L101.0,290.7 L101.5,290.7 L102.0,290.6 L102.5,290.6 L103.0,290.6 L103.5,290.5 L104.0,290.5 L104.5,290.4 L105.0,290.3 L105.5,290.2 L106.0,290.1 L106.5,290.0 L107.0,289.9 L107.5,289.8 L108.0,289.7 L108.5,289.6 L109.0,289.4 L109.5,289.3 L110.0,289.1 L110.5,289.0 L111.0,288.8 L111.5,288.6 L112.0,288.5 L112.5,288.3 L113.0,288.1 L113.5,287.9 L114.0,287.6 L114.5,287.4 L115.0,287.2 L115.5,287.0 L116.0,286.7 L116.5,286.5 L117.0,286.2 L117.5,286.0 L118.0,285.7 L118.5,285.5 L119.0,285.2 L119.5,284.9 L120.0,284.6 L120.5,284.3 L121.0,284.0 L121.5,283.7 L122.0,283.4 L122.5,283.1 L123.0,282.8 L123.5,282.5 L124.0,282.1 L124.5,281.8 L125.0,281.5 L125.5,281.1 L126.0,280.8 L126.5,280.4 L127.0,280.1 L127.5,279.7 L128.0,279.3 L128.5,279.0 L129.0,278.6 L129.5,278.2 L130.0,277.8 L130.5,277.4 L131.0,277.1 L131.5,276.7 L132.0,276.3 L132.5,275.9 L133.0,275.5 L133.5,275.1 L134.0,274.7 L134.5,274.2 L135.0,273.8 L135.5,273.4 L136.0,273.0 L136.5,272.6 L137.0,272.2 L137.5,271.7 L138.0,271.3 L138.5,270.9 L139.0,270.4 L139.5,270.0 L140.0,269.6 L140.5,269.4 L141.0,269.4 L141.5,269.3 L142.0,269.3 L142.5,269.3 L143.0,269.3 L143.5,269.2 L144.0,269.2 L144.5,269.2 L145.0,269.1 L145.5,269.1 L146.0,269.1 L146.5,269.0 L147.0,269.0 L147.5,268.9 L148.0,268.9 L148.5,268.8 L149.0,268.8 L149.5,268.7 L150.0,268.7 L150.5,268.6 L151.0,268.6 L151.5,268.5 L152.0,268.4 L152.5,268.4 L153.0,268.3 L153.5,268.2 L154.0,268.2 L154.5,268.1 L155.0,268.0 L155.5,268.0 L156.0,267.9 L156.5,267.8 L157.0,267.7 L157.5,267.6 L158.0,267.5 L158.5,267.5 L159.0,267.4 L159.5,267.3 L160.0,267.2 L160.5,267.1 L161.0,267.0 L161.5,266.9 L162.0,266.8 L162.5,266.7 L163.0,266.6 L163.5,266.5 L164.0,266.4 L164.5,266.3 L165.0,266.2 L165.5,266.1 L166.0,266.0 L166.5,265.8 L167.0,265.7 L167.5,265.6 L168.0,265.5 L168.5,265.4 L169.0,265.3 L169.5,265.1 L170.0,265.0 L170.5,264.9 L171.0,264.8 L171.5,264.6 L172.0,264.5 L172.5,264.4 L173.0,264.3 L173.5,264.1 L174.0,264.0 L174.5,263.9 L175.0,263.7 L175.5,263.6 L176.0,263.5 L176.5,263.3 L177.0,263.2 L177.5,263.0 L178.0,262.9 L178.5,262.8 L179.0,262.6 L179.5,262.5 L180.0,262.3 L180.5,262.2 L181.0,262.0 L181.5,261.9 L182.0,261.7 L182.5,261.6 L183.0,261.4 L183.5,261.3 L184.0,261.1 L184.5,261.0 L185.0,260.8 L185.5,260.7 L186.0,260.5 L186.5,260.4 L187.0,260.2 L187.0,260.2 L186.5,260.6 L186.0,261.0 L185.5,261.5 L185.0,262.0 L184.5,262.4 L184.0,262.9 L183.5,263.4 L183.0,263.8 L182.5,264.3 L182.0,264.7 L181.5,265.2 L181.0,265.7 L180.5,266.1 L180.0,266.6 L179.5,267.0 L179.0,267.5 L178.5,267.9 L178.0,268.4 L177.5,268.8 L177.0,269.3 L176.5,269.7 L176.0,270.2 L175.5,270.6 L175.0,271.0 L174.5,271.5 L174.0,271.9 L173.5,272.4 L173.0,272.8 L172.5,273.2 L172.0,273.7 L171.5,274.1 L171.0,274.5 L170.5,275.0 L170.0,275.4 L169.5,275.8 L169.0,276.2 L168.5,276.7 L168.0,277.1 L167.5,277.5 L167.0,277.9 L166.5,278.3 L166.0,278.8 L165.5,279.2 L165.0,279.6 L164.5,280.0 L164.0,280.4 L163.5,280.8 L163.0,281.2 L162.5,281.6 L162.0,282.0 L161.5,282.4 L161.0,282.8 L160.5,283.2 L160.0,283.6 L159.5,284.0 L159.0,284.4 L158.5,284.8 L158.0,285.2 L157.5,285.6 L157.0,286.0 L156.5,286.4 L156.0,286.7 L155.5,287.1 L155.0,287.5 L154.5,287.9 L154.0,288.3 L153.5,288.6 L153.0,289.0 L152.5,289.4 L152.0,289.7 L151.5,290.1 L151.0,290.4 L150.5,290.8 L150.0,291.1 L149.5,291.5 L149.0,291.8 L148.5,292.2 L148.0,292.5 L147.5,292.8 L147.0,293.2 L146.5,293.5 L146.0,293.8 L145.5,294.1 L145.0,294.4 L144.5,294.8 L144.0,295.1 L143.5,295.4 L143.0,295.7 L142.5,295.9 L142.0,296.2 L141.5,296.5 L141.0,296.8 L140.5,297.1 L140.0,297.3 L139.5,297.6 L139.0,297.9 L138.5,298.1 L138.0,298.4 L137.5,298.6 L137.0,298.8 L136.5,299.1 L136.0,299.3 L135.5,299.5 L135.0,299.7 L134.5,299.9 L134.0,300.1 L133.5,300.3 L133.0,300.5 L132.5,300.7 L132.0,300.9 L131.5,301.1 L131.0,301.2 L130.5,301.4 L130.0,301.5 L129.5,301.7 L129.0,301.8 L128.5,302.0 L128.0,302.1 L127.5,302.2 L127.0,302.3 L126.5,302.4 L126.0,302.5 L125.5,302.6 L125.0,302.7 L124.5,302.8 L124.0,302.8 L123.5,302.9 L123.0,302.9 L122.5,303.0 L122.0,303.0 L121.5,303.0 L121.0,303.1 L120.5,303.1 L120.0,303.1 L119.5,303.1 L119.0,303.0 L118.5,303.0 L118.0,303.0 L117.5,303.0 L117.0,302.9 L116.5,302.8 L116.0,302.8 L115.5,302.7 L115.0,302.6 L114.5,302.5 L114.0,302.4 L113.5,302.3 L113.0,302.2 L112.5,302.0 L112.0,301.9 L111.5,301.8 L111.0,301.6 L110.5,301.4 L110.0,301.2 L109.5,301.1 L109.0,300.9 L108.5,300.6 L108.0,300.4 L107.5,300.2 L107.0,300.0 L106.5,299.7 L106.0,299.5 L105.5,299.2 L105.0,299.0 L104.5,298.7 L104.0,298.4 L103.5,298.1 L103.0,297.8 L102.5,297.5 L102.0,297.2 L101.5,296.9 L101.0,296.6 L100.5,296.3 L100.0,295.9 L99.5,295.6 L99.0,295.2 L98.5,294.9 L98.0,294.5 L97.5,294.2 L97.0,293.8 L96.5,293.4 L96.0,293.0 L95.5,292.6 L95.0,292.2 L94.5,291.8 L94.0,291.4 L93.5,291.0 L93.0,290.6 L92.5,290.2 L92.0,289.8 L91.5,289.6Z" fill="#030303"/>
<path d="M42.9,228.3 L43.4,229.0 L43.9,229.8 L44.4,230.5 L44.9,231.2 L45.4,232.0 L45.9,232.7 L46.4,233.4 L46.9,234.2 L47.4,234.9 L47.9,235.6 L48.4,236.4 L48.9,237.1 L49.4,237.8 L49.9,238.6 L50.4,239.3 L50.9,240.0 L51.4,240.8 L51.9,241.5 L52.4,242.2 L52.9,243.0 L53.4,243.7 L53.9,244.4 L54.4,245.1 L54.9,245.9 L55.4,246.6 L55.9,247.3 L56.4,248.0 L56.9,248.7 L57.4,249.4 L57.9,250.2 L58.4,250.9 L58.9,251.6 L59.4,252.3 L59.9,253.0 L60.4,253.7 L60.9,254.4 L61.4,255.1 L61.9,255.8 L62.4,256.5 L62.9,257.2 L63.4,257.9 L63.9,258.5 L64.4,259.2 L64.9,259.9 L65.4,260.6 L65.9,261.2 L66.4,261.9 L66.9,262.6 L67.4,263.2 L67.9,263.9 L68.4,264.5 L68.9,265.2 L69.4,265.8 L69.9,266.4 L70.4,267.1 L70.9,267.7 L71.4,268.3 L71.9,268.9 L72.4,269.6 L72.9,270.2 L73.4,270.8 L73.9,271.4 L74.4,272.0 L74.9,272.6 L75.4,273.1 L75.9,273.7 L76.4,274.3 L76.9,274.9 L77.4,275.4 L77.9,276.0 L78.4,276.5 L78.9,277.1 L79.4,277.6 L79.9,278.2 L80.4,278.7 L80.9,279.2 L81.4,279.8 L81.9,280.3 L82.4,280.8 L82.9,281.3 L83.4,281.8 L83.9,282.3 L84.4,282.8 L84.9,283.3 L85.4,283.8 L85.9,284.3 L86.4,284.7 L86.9,285.2 L87.4,285.7 L87.9,286.1 L88.4,286.6 L88.9,287.0 L89.4,287.5 L89.9,287.9 L90.4,288.4 L90.9,288.8 L91.4,289.3 L91.9,289.7 L92.4,290.1 L92.9,290.5 L93.4,290.9 L93.9,291.4 L94.4,291.8 L94.9,292.2 L95.4,292.6 L95.9,292.9 L96.4,293.3 L96.9,293.7 L97.4,294.1 L97.9,294.4 L98.4,294.8 L98.9,295.2 L99.4,295.5 L99.9,295.9 L100.4,296.2 L100.9,296.5 L101.4,296.8 L101.9,297.2 L102.4,297.5 L102.9,297.8 L103.4,298.1 L103.9,298.4 L104.4,298.6 L104.9,298.9 L105.4,299.2 L105.9,299.4 L106.4,299.7 L106.9,299.9 L107.4,300.2 L107.9,300.4 L108.4,300.6 L108.9,300.8 L109.4,301.0 L109.9,301.2 L110.4,301.4 L110.9,301.6 L111.4,301.7 L111.9,301.9 L112.4,302.0 L112.9,302.2 L113.4,302.3 L113.9,302.4 L114.4,302.5 L114.9,302.6 L115.4,302.7 L115.9,302.8 L116.4,302.8 L116.9,302.9 L117.4,302.9 L117.9,303.0 L118.4,303.0 L118.9,303.0 L119.4,303.1 L119.9,303.1 L120.4,303.1 L120.9,303.1 L121.4,303.0 L121.9,303.0 L122.4,303.0 L122.9,302.9 L123.4,302.9 L123.9,302.8 L124.4,302.8 L124.9,302.7 L125.4,302.6 L125.9,302.5 L126.4,302.4 L126.9,302.3 L127.4,302.2 L127.9,302.1 L128.4,302.0 L128.9,301.9 L129.4,301.7 L129.9,301.6 L130.4,301.4 L130.9,301.3 L131.4,301.1 L131.9,300.9 L132.4,300.8 L132.9,300.6 L133.4,300.4 L133.9,300.2 L134.4,300.0 L134.9,299.8 L135.4,299.6 L135.9,299.3 L136.4,299.1 L136.9,298.9 L137.4,298.7 L137.9,298.4 L138.4,298.2 L138.9,297.9 L139.4,297.7 L139.9,297.4 L140.4,297.1 L140.9,296.9 L141.4,296.6 L141.9,296.3 L142.4,296.0 L142.9,295.7 L143.4,295.4 L143.9,295.1 L144.4,294.8 L144.9,294.5 L145.4,294.2 L145.9,293.9 L146.4,293.6 L146.9,293.2 L147.4,292.9 L147.9,292.6 L148.4,292.2 L148.9,291.9 L149.4,291.6 L149.9,291.2 L150.4,290.9 L150.9,290.5 L151.4,290.2 L151.9,289.8 L152.4,289.4 L152.9,289.1 L153.4,288.7 L153.9,288.3 L154.4,288.0 L154.9,287.6 L155.4,287.2 L155.9,286.8 L156.4,286.4 L156.9,286.1 L157.4,285.7 L157.9,285.3 L158.4,284.9 L158.9,284.5 L159.4,284.1 L159.9,283.7 L160.4,283.3 L160.9,282.9 L161.4,282.5 L161.9,282.1 L162.4,281.7 L162.9,281.3 L163.4,280.9 L163.9,280.5 L164.4,280.1 L164.9,279.7 L165.4,279.3 L165.9,278.8 L166.4,278.4 L166.9,278.0 L167.4,277.6 L167.9,277.2 L168.4,276.7 L168.9,276.3 L169.4,275.9 L169.9,275.5 L170.4,275.0 L170.9,274.6 L171.4,274.2 L171.9,273.8 L172.4,273.3 L172.9,272.9 L173.4,272.5 L173.9,272.0 L174.4,271.6 L174.9,271.1 L175.4,270.7 L175.9,270.3 L176.4,269.8 L176.9,269.4 L177.4,268.9 L177.9,268.5 L178.4,268.0 L178.9,267.6 L179.4,267.1 L179.9,266.7 L180.4,266.2 L180.9,265.8 L181.4,265.3 L181.9,264.8 L182.4,264.4 L182.9,263.9 L183.4,263.5 L183.9,263.0 L184.4,262.5 L184.9,262.1 L185.4,261.6 L185.9,261.1 L186.4,260.7 L186.9,260.2 L187.4,259.7 L187.9,259.2 L188.4,258.8 L188.9,258.3 L189.4,257.8 L189.9,257.3 L190.4,256.9 L190.9,256.4 L191.4,255.9 L191.9,255.4 L192.4,254.9 L192.9,254.5 L193.4,254.0 L193.9,253.5 L194.4,253.0 L194.9,252.5 L195.4,252.0 L195.9,251.5 L196.4,251.0 L196.9,250.6 L197.4,250.1 L197.9,249.6 L198.4,249.1 L198.9,248.6 L199.4,248.1 L199.9,247.6 L200.4,247.1 L200.9,246.6 L201.4,246.1 L201.9,245.6 L202.4,245.1 L202.9,244.6 L203.4,244.1 L203.9,243.6 L204.4,243.1 L204.9,242.6 L205.4,242.0 L205.9,241.5 L206.4,241.0 L206.9,240.5 L207.4,240.0 L207.9,239.5 L208.4,239.0 L208.9,238.5 L209.4,237.9 L209.9,237.4 L210.4,236.9 L210.9,236.4 L211.4,235.9 L211.9,235.4 L212.4,234.8 L212.9,234.3 L213.4,233.8 L213.9,233.3 L214.4,232.8 L214.7,232.4" fill="none" stroke="#252525" stroke-width="1.35"/>
<path d="M23.1,219.0 L23.6,219.6 L24.1,220.3 L24.6,220.9 L25.1,221.6 L25.6,222.2 L26.1,222.9 L26.6,223.6 L27.1,224.2 L27.6,224.9 L28.1,225.6 L28.6,226.2 L29.1,226.9 L29.6,227.6 L30.1,228.2 L30.6,228.9 L31.1,229.6 L31.6,230.3 L32.1,230.9 L32.6,231.6 L33.1,232.3 L33.6,233.0 L34.1,233.7 L34.6,234.4 L35.1,235.0 L35.6,235.7 L36.1,236.4 L36.6,237.1 L37.1,237.8 L37.6,238.5 L38.1,239.1 L38.6,239.8 L39.1,240.5 L39.6,241.2 L40.1,241.9 L40.6,242.6 L41.1,243.3 L41.6,243.9 L42.1,244.6 L42.6,245.3 L43.1,246.0 L43.6,246.6 L44.1,247.3 L44.6,248.0 L45.1,248.7 L45.6,249.3 L46.1,250.0 L46.6,250.7 L47.1,251.3 L47.6,252.0 L48.1,252.7 L48.6,253.3 L49.1,254.0 L49.6,254.6 L50.1,255.3 L50.6,255.9 L51.1,256.5 L51.6,257.2 L52.1,257.8 L52.6,258.4 L53.1,259.1 L53.6,259.7 L54.1,260.3 L54.6,260.9 L55.1,261.6 L55.6,262.2 L56.1,262.8 L56.6,263.4 L57.1,264.0 L57.6,264.5 L58.1,265.1 L58.6,265.7 L59.1,266.3 L59.6,266.9 L60.1,267.4 L60.6,268.0 L61.1,268.5 L61.6,269.1 L62.1,269.6 L62.6,270.2 L63.1,270.7 L63.6,271.2 L64.1,271.7 L64.6,272.3 L65.1,272.8 L65.6,273.3 L66.1,273.8 L66.6,274.3 L67.1,274.7 L67.6,275.2 L68.1,275.7 L68.6,276.1 L69.1,276.6 L69.6,277.0 L70.1,277.5 L70.6,277.9 L71.1,278.3 L71.6,278.7 L72.1,279.2 L72.6,279.6 L73.1,280.0 L73.6,280.4 L74.1,280.7 L74.6,281.1 L75.1,281.5 L75.6,281.8 L76.1,282.2 L76.6,282.5 L77.1,282.9 L77.6,283.2 L78.1,283.6 L78.6,283.9 L79.1,284.2 L79.6,284.5 L80.1,284.8 L80.6,285.1 L81.1,285.4 L81.6,285.6 L82.1,285.9 L82.6,286.2 L83.1,286.4 L83.6,286.7 L84.1,286.9 L84.6,287.2 L85.1,287.4 L85.6,287.6 L86.1,287.8 L86.6,288.0 L87.1,288.2 L87.6,288.4 L88.1,288.6 L88.6,288.8 L89.1,288.9 L89.6,289.1 L90.1,289.2 L90.6,289.4 L91.1,289.5 L91.6,289.7 L92.1,289.8 L92.6,289.9 L93.1,290.0 L93.6,290.1 L94.1,290.2 L94.6,290.3 L95.1,290.4 L95.6,290.4 L96.1,290.5 L96.6,290.5 L97.1,290.6 L97.6,290.6 L98.1,290.7 L98.6,290.7 L99.1,290.7 L99.6,290.7 L100.1,290.7 L100.6,290.7 L101.1,290.7 L101.6,290.7 L102.1,290.6 L102.6,290.6 L103.1,290.6 L103.6,290.5 L104.1,290.4 L104.6,290.4 L105.1,290.3 L105.6,290.2 L106.1,290.1 L106.6,290.0 L107.1,289.9 L107.6,289.8 L108.1,289.7 L108.6,289.5 L109.1,289.4 L109.6,289.3 L110.1,289.1 L110.6,288.9 L111.1,288.8 L111.6,288.6 L112.1,288.4 L112.6,288.2 L113.1,288.0 L113.6,287.8 L114.1,287.6 L114.6,287.4 L115.1,287.2 L115.6,286.9 L116.1,286.7 L116.6,286.4 L117.1,286.2 L117.6,285.9 L118.1,285.7 L118.6,285.4 L119.1,285.1 L119.6,284.8 L120.1,284.6 L120.6,284.3 L121.1,284.0 L121.6,283.7 L122.1,283.4 L122.6,283.0 L123.1,282.7 L123.6,282.4 L124.1,282.1 L124.6,281.7 L125.1,281.4 L125.6,281.0 L126.1,280.7 L126.6,280.3 L127.1,280.0 L127.6,279.6 L128.1,279.3 L128.6,278.9 L129.1,278.5 L129.6,278.1 L130.1,277.8 L130.6,277.4 L131.1,277.0 L131.6,276.6 L132.1,276.2 L132.6,275.8 L133.1,275.4 L133.6,275.0 L134.1,274.6 L134.6,274.2 L135.1,273.8 L135.6,273.3 L136.1,272.9 L136.6,272.5 L137.1,272.1 L137.6,271.6 L138.1,271.2 L138.6,270.8 L139.1,270.3 L139.6,269.9 L140.1,269.5 L140.6,269.0 L141.1,268.6 L141.6,268.1 L142.1,267.7 L142.6,267.3 L143.1,266.8 L143.6,266.4 L144.1,265.9 L144.6,265.5 L145.1,265.0 L145.6,264.6 L146.1,264.1 L146.6,263.7 L147.1,263.2 L147.6,262.8 L148.1,262.3 L148.6,261.8 L149.1,261.4 L149.6,260.9 L150.1,260.5 L150.6,260.0 L151.1,259.6 L151.6,259.1 L152.1,258.7 L152.6,258.2 L153.1,257.8 L153.6,257.3 L154.1,256.8 L154.6,256.4 L155.1,255.9 L155.6,255.5 L156.1,255.0 L156.6,254.6 L157.1,254.1 L157.6,253.7 L158.1,253.2 L158.6,252.8 L159.1,252.3 L159.6,251.8 L160.1,251.4 L160.6,250.9 L161.1,250.5 L161.6,250.0 L162.1,249.5 L162.6,249.1 L163.1,248.6 L163.6,248.1 L164.1,247.7 L164.6,247.2 L165.1,246.8 L165.6,246.3 L166.1,245.8 L166.6,245.3 L167.1,244.9 L167.6,244.4 L168.1,243.9 L168.6,243.4 L169.1,243.0 L169.6,242.5 L170.1,242.0 L170.6,241.5 L171.1,241.0 L171.6,240.6 L172.1,240.1 L172.6,239.6 L173.1,239.1 L173.6,238.6 L174.1,238.1 L174.6,237.6 L175.1,237.1 L175.6,236.6 L176.1,236.1 L176.6,235.6 L177.1,235.1 L177.6,234.6 L178.1,234.0 L178.6,233.5 L179.1,233.0 L179.6,232.5 L180.1,232.0 L180.6,231.4 L181.1,230.9 L181.6,230.4 L182.1,229.9 L182.6,229.4 L183.1,228.9 L183.6,228.4 L184.1,227.9 L184.6,227.4 L185.1,226.9 L185.6,226.5 L186.1,226.0 L186.6,225.6 L187.1,225.2 L187.6,224.8 L188.1,224.5 L188.6,224.1 L189.1,223.8 L189.6,223.5 L190.1,223.2 L190.6,223.0 L191.1,222.8" fill="none" stroke="#fff" stroke-width="2.0"/>
<path d="M23.1,219.0 L23.6,219.6 L24.1,220.3 L24.6,220.9 L25.1,221.6 L25.6,222.2 L26.1,222.9 L26.6,223.6 L27.1,224.2 L27.6,224.9 L28.1,225.6 L28.6,226.2 L29.1,226.9 L29.6,227.6 L30.1,228.2 L30.6,228.9 L31.1,229.6 L31.6,230.3 L32.1,230.9 L32.6,231.6 L33.1,232.3 L33.6,233.0 L34.1,233.7 L34.6,234.4 L35.1,235.0 L35.6,235.7 L36.1,236.4 L36.6,237.1 L37.1,237.8 L37.6,238.5 L38.1,239.1 L38.6,239.8 L39.1,240.5 L39.6,241.2 L40.1,241.9 L40.6,242.6 L41.1,243.3 L41.6,243.9 L42.1,244.6 L42.6,245.3 L43.1,246.0 L43.6,246.6 L44.1,247.3 L44.6,248.0 L45.1,248.7 L45.6,249.3 L46.1,250.0 L46.6,250.7 L47.1,251.3 L47.6,252.0 L48.1,252.7 L48.6,253.3 L49.1,254.0 L49.6,254.6 L50.1,255.3 L50.6,255.9 L51.1,256.5 L51.6,257.2 L52.1,257.8 L52.6,258.4 L53.1,259.1 L53.6,259.7 L54.1,260.3 L54.6,260.9 L55.1,261.6 L55.6,262.2 L56.1,262.8 L56.6,263.4 L57.1,264.0 L57.6,264.5 L58.1,265.1 L58.6,265.7 L59.1,266.3 L59.6,266.9 L60.1,267.4 L60.6,268.0 L61.1,268.5 L61.6,269.1 L62.1,269.6 L62.6,270.2 L63.1,270.7 L63.6,271.2 L64.1,271.7 L64.6,272.3 L65.1,272.8 L65.6,273.3 L66.1,273.8 L66.6,274.3 L67.1,274.7 L67.6,275.2 L68.1,275.7 L68.6,276.1 L69.1,276.6 L69.6,277.0 L70.1,277.5 L70.6,277.9 L71.1,278.3 L71.6,278.7 L72.1,279.2 L72.6,279.6 L73.1,280.0 L73.6,280.4 L74.1,280.7 L74.6,281.1 L75.1,281.5 L75.6,281.8 L76.1,282.2 L76.6,282.5 L77.1,282.9 L77.6,283.2 L78.1,283.6 L78.6,283.9 L79.1,284.2 L79.6,284.5 L80.1,284.8 L80.6,285.1 L81.1,285.4 L81.6,285.6 L82.1,285.9 L82.6,286.2 L83.1,286.4 L83.6,286.7 L84.1,286.9 L84.6,287.2 L85.1,287.4 L85.6,287.6 L86.1,287.8 L86.6,288.0 L87.1,288.2 L87.6,288.4 L88.1,288.6 L88.6,288.8 L89.1,288.9 L89.6,289.1 L90.1,289.2 L90.6,289.4 L91.1,289.5 L91.6,289.7 L92.1,289.8 L92.6,289.9 L93.1,290.0 L93.6,290.1 L94.1,290.2 L94.6,290.3 L95.1,290.4 L95.6,290.4 L96.1,290.5 L96.6,290.5 L97.1,290.6 L97.6,290.6 L98.1,290.7 L98.6,290.7 L99.1,290.7 L99.6,290.7 L100.1,290.7 L100.6,290.7 L101.1,290.7 L101.6,290.7 L102.1,290.6 L102.6,290.6 L103.1,290.6 L103.6,290.5 L104.1,290.4 L104.6,290.4 L105.1,290.3 L105.6,290.2 L106.1,290.1 L106.6,290.0 L107.1,289.9 L107.6,289.8 L108.1,289.7 L108.6,289.5 L109.1,289.4 L109.6,289.3 L110.1,289.1 L110.6,288.9 L111.1,288.8 L111.6,288.6 L112.1,288.4 L112.6,288.2 L113.1,288.0 L113.6,287.8 L114.1,287.6 L114.6,287.4 L115.1,287.2 L115.6,286.9 L116.1,286.7 L116.6,286.4 L117.1,286.2 L117.6,285.9 L118.1,285.7 L118.6,285.4 L119.1,285.1 L119.6,284.8 L120.1,284.6 L120.6,284.3 L121.1,284.0 L121.6,283.7 L122.1,283.4 L122.6,283.0 L123.1,282.7 L123.6,282.4 L124.1,282.1 L124.6,281.7 L125.1,281.4 L125.6,281.0 L126.1,280.7 L126.6,280.3 L127.1,280.0 L127.6,279.6 L128.1,279.3 L128.6,278.9 L129.1,278.5 L129.6,278.1 L130.1,277.8 L130.6,277.4 L131.1,277.0 L131.6,276.6 L132.1,276.2 L132.6,275.8 L133.1,275.4 L133.6,275.0 L134.1,274.6 L134.6,274.2 L135.1,273.8 L135.6,273.3 L136.1,272.9 L136.6,272.5 L137.1,272.1 L137.6,271.6 L138.1,271.2 L138.6,270.8 L139.1,270.3 L139.6,269.9 L140.1,269.5 L140.6,269.0 L141.1,268.6 L141.6,268.1 L142.1,267.7 L142.6,267.3 L143.1,266.8 L143.6,266.4 L144.1,265.9 L144.6,265.5 L145.1,265.0 L145.6,264.6 L146.1,264.1 L146.6,263.7 L147.1,263.2 L147.6,262.8 L148.1,262.3 L148.6,261.8 L149.1,261.4 L149.6,260.9 L150.1,260.5 L150.6,260.0 L151.1,259.6 L151.6,259.1 L152.1,258.7 L152.6,258.2 L153.1,257.8 L153.6,257.3 L154.1,256.8 L154.6,256.4 L155.1,255.9 L155.6,255.5 L156.1,255.0 L156.6,254.6 L157.1,254.1 L157.6,253.7 L158.1,253.2 L158.6,252.8 L159.1,252.3 L159.6,251.8 L160.1,251.4 L160.6,250.9 L161.1,250.5 L161.6,250.0 L162.1,249.5 L162.6,249.1 L163.1,248.6 L163.6,248.1 L164.1,247.7 L164.6,247.2 L165.1,246.8 L165.6,246.3 L166.1,245.8 L166.6,245.3 L167.1,244.9 L167.6,244.4 L168.1,243.9 L168.6,243.4 L169.1,243.0 L169.6,242.5 L170.1,242.0 L170.6,241.5 L171.1,241.0 L171.6,240.6 L172.1,240.1 L172.6,239.6 L173.1,239.1 L173.6,238.6 L174.1,238.1 L174.6,237.6 L175.1,237.1 L175.6,236.6 L176.1,236.1 L176.6,235.6 L177.1,235.1 L177.6,234.6 L178.1,234.0 L178.6,233.5 L179.1,233.0 L179.6,232.5 L180.1,232.0 L180.6,231.4 L181.1,230.9 L181.6,230.4 L182.1,229.9 L182.6,229.4 L183.1,228.9 L183.6,228.4 L184.1,227.9 L184.6,227.4 L185.1,226.9 L185.6,226.5 L186.1,226.0 L186.6,225.6 L187.1,225.2 L187.6,224.8 L188.1,224.5 L188.6,224.1 L189.1,223.8 L189.6,223.5 L190.1,223.2 L190.6,223.0 L191.1,222.8" fill="none" stroke="#404040" stroke-width="1.45" stroke-dasharray="2.7 2.0"/>
<path d="M263.7,250.5 L264.2,250.6 L264.7,250.7 L265.2,250.7 L265.7,250.8 L266.2,250.9 L266.7,251.0 L267.2,251.1 L267.7,251.1 L268.2,251.2 L268.7,251.3 L269.2,251.4 L269.7,251.5 L270.2,251.6 L270.7,251.6 L271.2,251.7 L271.7,251.8 L272.2,251.9 L272.7,252.0 L273.2,252.1 L273.7,252.2 L274.2,252.3 L274.7,252.4 L275.2,252.5 L275.7,252.5 L276.2,252.6 L276.7,252.7 L277.2,252.8 L277.7,252.9 L278.2,253.0 L278.7,253.1 L279.2,253.2 L279.7,253.3 L280.2,253.4 L280.7,253.5 L281.2,253.6 L281.7,253.7 L282.2,253.8 L282.7,253.9 L283.2,254.0 L283.7,254.1 L284.2,254.2 L284.7,254.3 L285.2,254.4 L285.7,254.5 L286.2,254.6 L286.7,254.7 L287.2,254.8 L287.7,254.9 L288.2,255.0 L288.7,255.1 L289.2,255.2 L289.7,255.3 L290.2,255.4 L290.7,255.5 L291.2,255.6 L291.7,255.8 L292.2,255.9 L292.7,256.0 L293.2,256.1 L293.7,256.2 L294.2,256.3 L294.7,256.4 L295.2,256.5 L295.7,256.6 L296.2,256.7 L296.7,256.8 L297.2,256.9 L297.7,257.0 L298.2,257.1 L298.7,257.2 L299.2,257.3 L299.7,257.4 L300.2,257.5 L300.7,257.6 L301.2,257.8 L301.7,257.9 L302.2,258.0 L302.7,258.1 L303.2,258.2 L303.7,258.3 L304.2,258.4 L304.7,258.5 L305.2,258.6 L305.7,258.7 L306.2,258.8 L306.7,258.9 L307.2,259.0 L307.7,259.1 L308.2,259.2 L308.7,259.3 L309.2,259.4 L309.7,259.5 L310.2,259.6 L310.7,259.7 L311.2,259.8 L311.7,259.9 L312.2,260.0 L312.7,260.1 L313.2,260.2 L313.7,260.3 L314.2,260.4 L314.7,260.5 L315.2,260.6 L315.7,260.7 L316.2,260.8 L316.7,260.9 L317.2,261.0 L317.7,261.1 L318.2,261.2 L318.7,261.3 L319.2,261.4 L319.7,261.4 L320.2,261.5 L320.7,261.6 L321.2,261.7 L321.7,261.8 L322.2,261.9 L322.7,262.0 L323.2,262.1 L323.7,262.2 L324.2,262.3 L324.7,262.3 L325.2,262.4 L325.7,262.5 L326.2,262.6 L326.7,262.7 L327.2,262.8 L327.7,262.9 L328.2,262.9 L328.7,263.0 L329.2,263.1 L329.7,263.2 L330.2,263.3 L330.7,263.3 L331.2,263.4 L331.7,263.5 L332.2,263.6 L332.7,263.7 L333.2,263.7 L333.7,263.8 L334.2,263.9 L334.7,264.0 L335.2,264.1 L335.7,264.1 L336.2,264.2 L336.7,264.3 L337.2,264.4 L337.7,264.4 L338.2,264.5 L338.7,264.6 L339.2,264.7 L339.7,264.7 L340.2,264.8 L340.7,264.9 L341.2,265.0 L341.7,265.0 L342.2,265.1 L342.7,265.2 L343.2,265.3 L343.7,265.3 L344.2,265.4 L344.7,265.5 L345.2,265.5 L345.7,265.6 L346.2,265.7 L346.7,265.8 L347.2,265.8 L347.7,265.9 L348.2,266.0 L348.7,266.0 L349.2,266.1 L349.7,266.2 L350.2,266.3 L350.7,266.3 L351.2,266.4 L351.7,266.5 L352.2,266.5 L352.7,266.6 L353.2,266.7 L353.7,266.7 L354.2,266.8 L354.7,266.9 L355.2,266.9 L355.7,267.0 L356.2,267.1 L356.7,267.1 L357.2,267.2 L357.7,267.3 L358.2,267.3 L358.7,267.4 L359.2,267.5 L359.7,267.5 L360.2,267.6 L360.7,267.6 L361.2,267.7 L361.7,267.8 L362.2,267.8 L362.7,267.9 L363.2,267.9 L363.7,268.0 L364.2,268.0 L364.7,268.1 L365.2,268.1 L365.7,268.2 L366.2,268.3 L366.7,268.3 L367.2,268.4 L367.7,268.4 L368.2,268.4 L368.7,268.5 L369.2,268.5 L369.7,268.6 L370.2,268.6 L370.7,268.7 L371.2,268.7 L371.7,268.7 L372.2,268.8 L372.7,268.8 L373.2,268.9 L373.7,268.9 L374.2,268.9 L374.7,269.0 L375.2,269.0 L375.7,269.0 L376.2,269.0 L376.7,269.1 L377.2,269.1 L377.7,269.1 L378.2,269.1 L378.7,269.2 L379.2,269.2 L379.7,269.2 L380.2,269.2 L380.7,269.2 L381.2,269.3 L381.7,269.3 L382.2,269.3 L382.7,269.3 L383.2,269.3 L383.7,269.3 L384.2,269.3 L384.7,269.3 L385.2,269.3 L385.7,269.3 L386.2,269.3 L386.7,269.3 L387.2,269.3 L387.7,269.3 L388.2,269.3 L388.7,269.3 L389.2,269.2 L389.7,269.2 L390.2,269.2 L390.7,269.2 L391.2,269.2 L391.7,269.1 L392.2,269.1 L392.7,269.1 L393.2,269.0 L393.7,269.0 L394.2,269.0 L394.7,268.9 L395.2,268.9 L395.7,268.9 L396.2,268.8 L396.7,268.8 L397.2,268.7 L397.7,268.7 L398.2,268.6 L398.7,268.6 L399.2,268.5 L399.7,268.5 L400.2,268.4 L400.7,268.3 L401.2,268.3 L401.7,268.2 L402.2,268.1 L402.7,268.0 L403.2,268.0 L403.7,267.9 L404.2,267.8 L404.7,267.7 L405.2,267.6 L405.7,267.6 L406.2,267.5 L406.7,267.4 L407.2,267.3 L407.7,267.2 L408.2,267.1 L408.7,267.0 L409.2,266.9 L409.7,266.8 L410.2,266.7 L410.7,266.6 L411.2,266.5 L411.7,266.4 L412.2,266.3 L412.7,266.1 L413.2,266.0 L413.7,265.9 L414.2,265.8 L414.7,265.7 L415.2,265.6 L415.7,265.4 L416.2,265.3 L416.7,265.2 L417.2,265.1 L417.7,264.9 L418.2,264.8 L418.7,264.7 L419.2,264.5 L419.7,264.4 L420.2,264.3 L420.7,264.1 L421.2,264.0 L421.7,263.9 L422.2,263.7 L422.7,263.6 L423.2,263.4 L423.7,263.3 L424.2,263.2 L424.7,263.0 L425.2,262.9 L425.7,262.7 L426.2,262.6 L426.7,262.4 L427.2,262.3 L427.7,262.1 L428.2,262.0 L428.7,261.8 L429.2,261.7 L429.7,261.5 L430.2,261.4 L430.7,261.2 L431.2,261.1 L431.7,260.9 L432.2,260.7 L432.7,260.6 L433.2,260.4 L433.7,260.3 L434.2,260.1 L434.7,260.0 L435.2,259.8 L435.7,259.6 L436.2,259.5 L436.7,259.3 L437.2,259.2 L437.7,259.0 L438.2,258.8 L438.7,258.7 L439.2,258.5 L439.7,258.4 L440.2,258.2 L440.7,258.0 L441.2,257.9 L441.7,257.7 L442.2,257.6 L442.7,257.4 L443.2,257.2 L443.7,257.1 L444.2,256.9 L444.7,256.7 L445.2,256.6 L445.7,256.4 L446.2,256.3 L446.7,256.1 L447.2,255.9 L447.7,255.8 L448.2,255.6 L448.7,255.5 L449.2,255.3 L449.7,255.2 L450.2,255.0 L450.7,254.8 L451.2,254.7 L451.7,254.5 L452.2,254.4 L452.7,254.2 L453.2,254.1 L453.7,253.9 L454.2,253.8 L454.7,253.6 L455.2,253.5 L455.7,253.3 L456.2,253.2 L456.7,253.0 L457.2,252.9 L457.7,252.7 L458.2,252.6 L458.7,252.4 L459.2,252.3 L459.7,252.2 L460.2,252.0 L460.7,251.9 L461.2,251.7 L461.7,251.6 L462.2,251.5 L462.7,251.3 L463.2,251.2 L463.7,251.1 L464.2,250.9 L464.7,250.8 L465.2,250.7 L465.7,250.5 L466.2,250.4 L466.7,250.3 L467.2,250.2 L467.7,250.0 L468.2,249.9 L468.7,249.8 L469.2,249.7 L469.7,249.6 L470.0,249.5" fill="none" stroke="#a2a2a2" stroke-width="1.5"/>
<path d="M313.2,260.2 L313.7,260.3 L314.2,260.4 L314.7,260.5 L315.2,260.6 L315.7,260.7 L316.2,260.8 L316.7,260.9 L317.2,261.0 L317.7,261.1 L318.2,261.2 L318.7,261.3 L319.2,261.4 L319.7,261.4 L320.2,261.5 L320.7,261.6 L321.2,261.7 L321.7,261.8 L322.2,261.9 L322.7,262.0 L323.2,262.1 L323.7,262.2 L324.2,262.3 L324.7,262.3 L325.2,262.4 L325.7,262.5 L326.2,262.6 L326.7,262.7 L327.2,262.8 L327.7,262.9 L328.2,262.9 L328.7,263.0 L329.2,263.1 L329.7,263.2 L330.2,263.3 L330.7,263.3 L331.2,263.4 L331.7,263.5 L332.2,263.6 L332.7,263.7 L333.2,263.7 L333.7,263.8 L334.2,263.9 L334.7,264.0 L335.2,264.1 L335.7,264.1 L336.2,264.2 L336.7,264.3 L337.2,264.4 L337.7,264.4 L338.2,264.5 L338.7,264.6 L339.2,264.7 L339.7,264.7 L340.2,264.8 L340.7,264.9 L341.2,265.0 L341.7,265.0 L342.2,265.1 L342.7,265.2 L343.2,265.3 L343.7,265.3 L344.2,265.4 L344.7,265.5 L345.2,265.5 L345.7,265.6 L346.2,265.7 L346.7,265.8 L347.2,265.8 L347.7,265.9 L348.2,266.0 L348.7,266.0 L349.2,266.1 L349.7,266.2 L350.2,266.3 L350.7,266.3 L351.2,266.4 L351.7,266.5 L352.2,266.5 L352.7,266.6 L353.2,266.7 L353.7,266.7 L354.2,266.8 L354.7,266.9 L355.2,266.9 L355.7,267.0 L356.2,267.1 L356.7,267.1 L357.2,267.2 L357.7,267.3 L358.2,267.3 L358.7,267.4 L359.2,267.5 L359.7,267.5 L360.2,267.6 L360.7,267.6 L361.2,267.7 L361.7,267.8 L362.2,267.8 L362.7,267.9 L363.2,267.9 L363.7,268.0 L364.2,268.0 L364.7,268.1 L365.2,268.1 L365.7,268.2 L366.2,268.3 L366.7,268.3 L367.2,268.4 L367.7,268.4 L368.2,268.4 L368.7,268.5 L369.2,268.5 L369.7,268.6 L370.2,268.6 L370.7,268.7 L371.2,268.7 L371.7,268.7 L372.2,268.8 L372.7,268.8 L373.2,268.9 L373.7,268.9 L374.2,268.9 L374.7,269.0 L375.2,269.0 L375.7,269.0 L376.2,269.0 L376.7,269.1 L377.2,269.1 L377.7,269.1 L378.2,269.1 L378.7,269.2 L379.2,269.2 L379.7,269.2 L380.2,269.2 L380.7,269.2 L381.2,269.3 L381.7,269.3 L382.2,269.3 L382.7,269.3 L383.2,269.3 L383.7,269.3 L384.2,269.3 L384.7,269.3 L385.2,269.3 L385.7,269.3 L386.2,269.3 L386.7,269.3 L387.2,269.3 L387.7,269.3 L388.2,269.3 L388.7,269.3 L389.2,269.2 L389.7,269.2 L390.2,269.2 L390.7,269.2 L391.2,269.2 L391.7,269.1 L392.2,269.1 L392.7,269.1 L393.2,269.0 L393.7,269.0 L394.2,269.0 L394.7,268.9 L395.2,268.9 L395.7,268.9 L396.2,268.8 L396.7,268.8 L397.2,268.7 L397.7,268.7 L398.2,268.6 L398.7,268.6 L399.2,268.5 L399.7,268.5 L400.2,268.4 L400.7,268.3 L401.2,268.3 L401.7,268.2 L402.2,268.1 L402.7,268.0 L403.2,268.0 L403.7,267.9 L404.2,267.8 L404.7,267.7 L405.2,267.6 L405.7,267.6 L406.2,267.5 L406.7,267.4 L407.2,267.3 L407.7,267.2 L408.2,267.1 L408.7,267.0 L409.2,266.9 L409.7,266.8 L410.2,266.7 L410.7,266.6 L411.2,266.5 L411.7,266.4 L412.2,266.3 L412.7,266.1 L413.2,266.0 L413.7,265.9 L414.2,265.8 L414.7,265.7 L415.2,265.6 L415.7,265.4 L416.2,265.3 L416.7,265.2 L417.2,265.1 L417.7,264.9 L418.2,264.8 L418.7,264.7 L419.2,264.5 L419.7,264.4 L420.2,264.3 L420.7,264.1 L421.2,264.0 L421.7,263.9 L422.2,263.7 L422.7,263.6 L423.2,263.4 L423.7,263.3 L424.2,263.2 L424.7,263.0 L425.2,262.9 L425.7,262.7 L426.2,262.6 L426.7,262.4 L427.2,262.3 L427.7,262.1 L428.2,262.0 L428.7,261.8 L429.2,261.7 L429.7,261.5 L430.2,261.4 L430.7,261.2 L431.2,261.1 L431.7,260.9 L432.2,260.7 L432.7,260.6 L433.2,260.4 L433.7,260.3 L433.7,260.3 L433.2,260.5 L432.7,260.9 L432.2,261.3 L431.7,261.7 L431.2,262.1 L430.7,262.5 L430.2,262.9 L429.7,263.3 L429.2,263.7 L428.7,264.1 L428.2,264.5 L427.7,264.9 L427.2,265.3 L426.7,265.7 L426.2,266.2 L425.7,266.6 L425.2,267.0 L424.7,267.4 L424.2,267.8 L423.7,268.2 L423.2,268.6 L422.7,269.0 L422.2,269.4 L421.7,269.8 L421.2,270.2 L420.7,270.7 L420.2,271.1 L419.7,271.5 L419.2,271.9 L418.7,272.3 L418.2,272.7 L417.7,273.1 L417.2,273.5 L416.7,273.9 L416.2,274.4 L415.7,274.8 L415.2,275.2 L414.7,275.6 L414.2,276.0 L413.7,276.4 L413.2,276.8 L412.7,277.2 L412.2,277.7 L411.7,278.1 L411.2,278.5 L410.7,278.9 L410.2,279.3 L409.7,279.7 L409.2,280.2 L408.7,280.6 L408.2,281.0 L407.7,281.4 L407.2,281.8 L406.7,282.2 L406.2,282.7 L405.7,283.1 L405.2,283.5 L404.7,283.9 L404.2,284.3 L403.7,284.7 L403.2,285.1 L402.7,285.5 L402.2,285.9 L401.7,286.3 L401.2,286.7 L400.7,287.1 L400.2,287.5 L399.7,287.9 L399.2,288.3 L398.7,288.7 L398.2,289.1 L397.7,289.4 L397.2,289.8 L396.7,290.2 L396.2,290.5 L395.7,290.9 L395.2,291.3 L394.7,291.6 L394.2,292.0 L393.7,292.3 L393.2,292.7 L392.7,293.0 L392.2,293.3 L391.7,293.6 L391.2,294.0 L390.7,294.3 L390.2,294.6 L389.7,294.9 L389.2,295.2 L388.7,295.5 L388.2,295.8 L387.7,296.1 L387.2,296.3 L386.7,296.6 L386.2,296.9 L385.7,297.1 L385.2,297.4 L384.7,297.6 L384.2,297.8 L383.7,298.0 L383.2,298.3 L382.7,298.5 L382.2,298.7 L381.7,298.9 L381.2,299.0 L380.7,299.2 L380.2,299.4 L379.7,299.6 L379.2,299.7 L378.7,299.8 L378.2,300.0 L377.7,300.1 L377.2,300.2 L376.7,300.3 L376.2,300.4 L375.7,300.5 L375.2,300.6 L374.7,300.6 L374.2,300.7 L373.7,300.8 L373.2,300.8 L372.7,300.8 L372.2,300.9 L371.7,300.9 L371.2,300.9 L370.7,300.9 L370.2,300.9 L369.7,300.9 L369.2,300.8 L368.7,300.8 L368.2,300.8 L367.7,300.7 L367.2,300.7 L366.7,300.6 L366.2,300.5 L365.7,300.5 L365.2,300.4 L364.7,300.3 L364.2,300.2 L363.7,300.1 L363.2,300.0 L362.7,299.9 L362.2,299.8 L361.7,299.6 L361.2,299.5 L360.7,299.4 L360.2,299.2 L359.7,299.1 L359.2,298.9 L358.7,298.7 L358.2,298.6 L357.7,298.4 L357.2,298.2 L356.7,298.0 L356.2,297.8 L355.7,297.6 L355.2,297.4 L354.7,297.2 L354.2,297.0 L353.7,296.8 L353.2,296.6 L352.7,296.4 L352.2,296.1 L351.7,295.9 L351.2,295.6 L350.7,295.4 L350.2,295.2 L349.7,294.9 L349.2,294.6 L348.7,294.4 L348.2,294.1 L347.7,293.9 L347.2,293.6 L346.7,293.3 L346.2,293.0 L345.7,292.7 L345.2,292.5 L344.7,292.2 L344.2,291.9 L343.7,291.6 L343.2,291.3 L342.7,291.0 L342.2,290.7 L341.7,290.4 L341.2,290.0 L340.7,289.7 L340.2,289.4 L339.7,289.0 L339.2,288.7 L338.7,288.4 L338.2,288.0 L337.7,287.6 L337.2,287.3 L336.7,286.9 L336.2,286.5 L335.7,286.1 L335.2,285.8 L334.7,285.4 L334.2,285.0 L333.7,284.5 L333.2,284.1 L332.7,283.7 L332.2,283.3 L331.7,282.8 L331.2,282.4 L330.7,281.9 L330.2,281.4 L329.7,280.9 L329.2,280.5 L328.7,280.0 L328.2,279.5 L327.7,278.9 L327.2,278.4 L326.7,277.9 L326.2,277.3 L325.7,276.8 L325.2,276.2 L324.7,275.6 L324.2,275.1 L323.7,274.5 L323.2,273.9 L322.7,273.2 L322.2,272.6 L321.7,272.0 L321.2,271.3 L320.7,270.7 L320.2,270.0 L319.7,269.3 L319.2,268.6 L318.7,268.0 L318.2,267.3 L317.7,266.6 L317.2,265.9 L316.7,265.2 L316.2,264.4 L315.7,263.7 L315.2,263.0 L314.7,262.3 L314.2,261.6 L313.7,260.8 L313.2,260.2Z" fill="#1c1c1c" stroke="#050505" stroke-width="0.9"/>
<path d="M291.5,228.4 L292.0,229.2 L292.5,229.9 L293.0,230.6 L293.5,231.3 L294.0,232.0 L294.5,232.7 L295.0,233.4 L295.5,234.1 L296.0,234.9 L296.5,235.6 L297.0,236.3 L297.5,237.0 L298.0,237.8 L298.5,238.5 L299.0,239.2 L299.5,240.0 L300.0,240.7 L300.5,241.4 L301.0,242.2 L301.5,242.9 L302.0,243.6 L302.5,244.4 L303.0,245.1 L303.5,245.8 L304.0,246.6 L304.5,247.3 L305.0,248.0 L305.5,248.8 L306.0,249.5 L306.5,250.3 L307.0,251.0 L307.5,251.7 L308.0,252.5 L308.5,253.2 L309.0,253.9 L309.5,254.7 L310.0,255.4 L310.5,256.1 L311.0,256.9 L311.5,257.6 L312.0,258.3 L312.5,259.1 L313.0,259.8 L313.5,260.5 L314.0,261.3 L314.5,262.0 L315.0,262.7 L315.5,263.4 L316.0,264.2 L316.5,264.9 L317.0,265.6 L317.5,266.3 L318.0,267.0 L318.5,267.7 L319.0,268.4 L319.5,269.1 L320.0,269.7 L320.5,270.4 L321.0,271.1 L321.5,271.7 L322.0,272.4 L322.5,273.0 L323.0,273.6 L323.5,274.2 L324.0,274.8 L324.5,275.4 L325.0,276.0 L325.5,276.6 L326.0,277.1 L326.5,277.7 L327.0,278.2 L327.5,278.7 L328.0,279.3 L328.5,279.8 L329.0,280.3 L329.5,280.8 L330.0,281.2 L330.5,281.7 L331.0,282.2 L331.5,282.6 L332.0,283.1 L332.5,283.5 L333.0,283.9 L333.5,284.4 L334.0,284.8 L334.5,285.2 L335.0,285.6 L335.5,286.0 L336.0,286.4 L336.5,286.8 L337.0,287.1 L337.5,287.5 L338.0,287.9 L338.5,288.2 L339.0,288.6 L339.5,288.9 L340.0,289.2 L340.5,289.6 L341.0,289.9 L341.5,290.2 L342.0,290.5 L342.5,290.9 L343.0,291.2 L343.5,291.5 L344.0,291.8 L344.5,292.1 L345.0,292.3 L345.5,292.6 L346.0,292.9 L346.5,293.2 L347.0,293.5 L347.5,293.7 L348.0,294.0 L348.5,294.3 L349.0,294.5 L349.5,294.8 L350.0,295.1 L350.5,295.3 L351.0,295.6 L351.5,295.8 L352.0,296.0 L352.5,296.3 L353.0,296.5 L353.5,296.7 L354.0,296.9 L354.5,297.1 L355.0,297.4 L355.5,297.6 L356.0,297.8 L356.5,298.0 L357.0,298.1 L357.5,298.3 L358.0,298.5 L358.5,298.7 L359.0,298.8 L359.5,299.0 L360.0,299.2 L360.5,299.3 L361.0,299.4 L361.5,299.6 L362.0,299.7 L362.5,299.8 L363.0,300.0 L363.5,300.1 L364.0,300.2 L364.5,300.3 L365.0,300.4 L365.5,300.4 L366.0,300.5 L366.5,300.6 L367.0,300.7 L367.5,300.7 L368.0,300.8 L368.5,300.8 L369.0,300.8 L369.5,300.9 L370.0,300.9 L370.5,300.9 L371.0,300.9 L371.5,300.9 L372.0,300.9 L372.5,300.8 L373.0,300.8 L373.5,300.8 L374.0,300.7 L374.5,300.7 L375.0,300.6 L375.5,300.5 L376.0,300.4 L376.5,300.4 L377.0,300.3 L377.5,300.1 L378.0,300.0 L378.5,299.9 L379.0,299.8 L379.5,299.6 L380.0,299.5 L380.5,299.3 L381.0,299.1 L381.5,298.9 L382.0,298.8 L382.5,298.6 L383.0,298.3 L383.5,298.1 L384.0,297.9 L384.5,297.7 L385.0,297.4 L385.5,297.2 L386.0,297.0 L386.5,296.7 L387.0,296.4 L387.5,296.2 L388.0,295.9 L388.5,295.6 L389.0,295.3 L389.5,295.0 L390.0,294.7 L390.5,294.4 L391.0,294.1 L391.5,293.8 L392.0,293.5 L392.5,293.1 L393.0,292.8 L393.5,292.4 L394.0,292.1 L394.5,291.8 L395.0,291.4 L395.5,291.0 L396.0,290.7 L396.5,290.3 L397.0,290.0 L397.5,289.6 L398.0,289.2 L398.5,288.8 L399.0,288.4 L399.5,288.1 L400.0,287.7 L400.5,287.3 L401.0,286.9 L401.5,286.5 L402.0,286.1 L402.5,285.7 L403.0,285.3 L403.5,284.9 L404.0,284.5 L404.5,284.1 L405.0,283.6 L405.5,283.2 L406.0,282.8 L406.5,282.4 L407.0,282.0 L407.5,281.6 L408.0,281.2 L408.5,280.7 L409.0,280.3 L409.5,279.9 L410.0,279.5 L410.5,279.1 L411.0,278.7 L411.5,278.2 L412.0,277.8 L412.5,277.4 L413.0,277.0 L413.5,276.6 L414.0,276.2 L414.5,275.8 L415.0,275.3 L415.5,274.9 L416.0,274.5 L416.5,274.1 L417.0,273.7 L417.5,273.3 L418.0,272.9 L418.5,272.5 L419.0,272.0 L419.5,271.6 L420.0,271.2 L420.5,270.8 L421.0,270.4 L421.5,270.0 L422.0,269.6 L422.5,269.2 L423.0,268.8 L423.5,268.4 L424.0,268.0 L424.5,267.5 L425.0,267.1 L425.5,266.7 L426.0,266.3 L426.5,265.9 L427.0,265.5 L427.5,265.1 L428.0,264.7 L428.5,264.3 L429.0,263.9 L429.5,263.5 L430.0,263.1 L430.5,262.7 L431.0,262.2 L431.5,261.8 L432.0,261.4 L432.5,261.0 L433.0,260.6 L433.5,260.2 L434.0,259.8 L434.5,259.4 L435.0,259.0 L435.5,258.6 L436.0,258.2 L436.5,257.8 L437.0,257.4 L437.5,257.0 L438.0,256.5 L438.5,256.1 L439.0,255.7 L439.5,255.3 L440.0,254.9 L440.5,254.5 L441.0,254.1 L441.5,253.7 L442.0,253.3 L442.5,252.9 L443.0,252.5 L443.5,252.1 L444.0,251.7 L444.5,251.2 L445.0,250.8 L445.5,250.4 L446.0,250.0 L446.5,249.6 L447.0,249.2 L447.5,248.8 L448.0,248.3 L448.5,247.9 L449.0,247.5 L449.5,247.0 L450.0,246.6 L450.5,246.2 L451.0,245.7 L451.5,245.3 L452.0,244.8 L452.5,244.3 L453.0,243.9 L453.5,243.4 L454.0,242.9 L454.5,242.4 L455.0,241.9 L455.5,241.4 L456.0,240.9 L456.5,240.3 L457.0,239.8 L457.5,239.2 L458.0,238.7 L458.5,238.1 L459.0,237.5 L459.5,236.9 L460.0,236.3 L460.5,235.7 L461.0,235.0 L461.5,234.4 L462.0,233.7 L462.5,233.0 L462.8,232.6" fill="none" stroke="#252525" stroke-width="1.35"/>
<path d="M273.0,191.6 L273.5,192.3 L274.0,192.9 L274.5,193.5 L275.0,194.2 L275.5,194.8 L276.0,195.5 L276.5,196.2 L277.0,196.9 L277.5,197.5 L278.0,198.2 L278.5,198.9 L279.0,199.7 L279.5,200.4 L280.0,201.1 L280.5,201.8 L281.0,202.5 L281.5,203.3 L282.0,204.0 L282.5,204.8 L283.0,205.5 L283.5,206.2 L284.0,207.0 L284.5,207.7 L285.0,208.5 L285.5,209.2 L286.0,210.0 L286.5,210.7 L287.0,211.5 L287.5,212.2 L288.0,213.0 L288.5,213.7 L289.0,214.4 L289.5,215.2 L290.0,215.9 L290.5,216.6 L291.0,217.3 L291.5,218.0 L292.0,218.7 L292.5,219.4 L293.0,220.1 L293.5,220.8 L294.0,221.5 L294.5,222.2 L295.0,222.8 L295.5,223.5 L296.0,224.1 L296.5,224.8 L297.0,225.4 L297.5,226.0 L298.0,226.6 L298.5,227.2 L299.0,227.8 L299.5,228.4 L300.0,229.0 L300.5,229.6 L301.0,230.2 L301.5,230.7 L302.0,231.3 L302.5,231.9 L303.0,232.4 L303.5,233.0 L304.0,233.5 L304.5,234.0 L305.0,234.6 L305.5,235.1 L306.0,235.6 L306.5,236.1 L307.0,236.7 L307.5,237.2 L308.0,237.7 L308.5,238.2 L309.0,238.7 L309.5,239.2 L310.0,239.7 L310.5,240.1 L311.0,240.6 L311.5,241.1 L312.0,241.6 L312.5,242.1 L313.0,242.6 L313.5,243.0 L314.0,243.5 L314.5,244.0 L315.0,244.4 L315.5,244.9 L316.0,245.4 L316.5,245.8 L317.0,246.3 L317.5,246.8 L318.0,247.2 L318.5,247.7 L319.0,248.1 L319.5,248.6 L320.0,249.0 L320.5,249.5 L321.0,249.9 L321.5,250.3 L322.0,250.8 L322.5,251.2 L323.0,251.6 L323.5,252.0 L324.0,252.5 L324.5,252.9 L325.0,253.3 L325.5,253.7 L326.0,254.1 L326.5,254.4 L327.0,254.8 L327.5,255.2 L328.0,255.6 L328.5,255.9 L329.0,256.3 L329.5,256.6 L330.0,257.0 L330.5,257.3 L331.0,257.6 L331.5,257.9 L332.0,258.3 L332.5,258.6 L333.0,258.8 L333.5,259.1 L334.0,259.4 L334.5,259.7 L335.0,259.9 L335.5,260.2 L336.0,260.4 L336.5,260.7 L337.0,260.9 L337.5,261.1 L338.0,261.3 L338.5,261.5 L339.0,261.6 L339.5,261.8 L340.0,262.0 L340.5,262.1 L341.0,262.3 L341.5,262.4 L342.0,262.5 L342.5,262.6 L343.0,262.7 L343.5,262.8 L344.0,262.9 L344.5,262.9 L345.0,263.0 L345.5,263.0 L346.0,263.1 L346.5,263.1 L347.0,263.1 L347.5,263.1 L348.0,263.1 L348.5,263.1 L349.0,263.1 L349.5,263.1 L350.0,263.0 L350.5,263.0 L351.0,262.9 L351.5,262.9 L352.0,262.8 L352.5,262.7 L353.0,262.7 L353.5,262.6 L354.0,262.5 L354.5,262.4 L355.0,262.3 L355.5,262.1 L356.0,262.0 L356.5,261.9 L357.0,261.7 L357.5,261.6 L358.0,261.4 L358.5,261.3 L359.0,261.1 L359.5,260.9 L360.0,260.7 L360.5,260.6 L361.0,260.4 L361.5,260.2 L362.0,260.0 L362.5,259.7 L363.0,259.5 L363.5,259.3 L364.0,259.1 L364.5,258.8 L365.0,258.6 L365.5,258.4 L366.0,258.1 L366.5,257.8 L367.0,257.6 L367.5,257.3 L368.0,257.0 L368.5,256.8 L369.0,256.5 L369.5,256.2 L370.0,255.9 L370.5,255.6 L371.0,255.3 L371.5,255.0 L372.0,254.7 L372.5,254.4 L373.0,254.0 L373.5,253.7 L374.0,253.4 L374.5,253.1 L375.0,252.7 L375.5,252.4 L376.0,252.0 L376.5,251.7 L377.0,251.3 L377.5,251.0 L378.0,250.6 L378.5,250.2 L379.0,249.9 L379.5,249.5 L380.0,249.1 L380.5,248.7 L381.0,248.3 L381.5,248.0 L382.0,247.6 L382.5,247.2 L383.0,246.8 L383.5,246.4 L384.0,246.0 L384.5,245.6 L385.0,245.2 L385.5,244.7 L386.0,244.3 L386.5,243.9 L387.0,243.5 L387.5,243.1 L388.0,242.6 L388.5,242.2 L389.0,241.8 L389.5,241.3 L390.0,240.9 L390.5,240.5 L391.0,240.0 L391.5,239.6 L392.0,239.2 L392.5,238.7 L393.0,238.3 L393.5,237.8 L394.0,237.4 L394.5,236.9 L395.0,236.5 L395.5,236.0 L396.0,235.6 L396.5,235.1 L397.0,234.6 L397.5,234.2 L398.0,233.7 L398.5,233.3 L399.0,232.8 L399.5,232.3 L400.0,231.9 L400.5,231.4 L401.0,230.9 L401.5,230.5 L402.0,230.0 L402.5,229.5 L403.0,229.1 L403.5,228.6 L404.0,228.1 L404.5,227.7 L405.0,227.2 L405.5,226.7 L406.0,226.3 L406.5,225.8 L407.0,225.3 L407.5,224.9 L408.0,224.4 L408.5,223.9 L409.0,223.5 L409.5,223.0 L410.0,222.5 L410.5,222.1 L411.0,221.6 L411.5,221.1 L412.0,220.7 L412.5,220.2 L413.0,219.7 L413.5,219.3 L414.0,218.8 L414.5,218.4 L415.0,217.9 L415.5,217.5 L416.0,217.0 L416.5,216.5 L417.0,216.1 L417.5,215.6 L418.0,215.2 L418.5,214.7 L419.0,214.3 L419.5,213.8 L420.0,213.4 L420.5,212.9 L421.0,212.5 L421.5,212.0 L422.0,211.6 L422.5,211.1 L423.0,210.7 L423.5,210.2 L424.0,209.8 L424.5,209.3 L425.0,208.9 L425.5,208.4 L426.0,208.0 L426.5,207.5 L427.0,207.1 L427.5,206.6 L428.0,206.2 L428.5,205.7 L429.0,205.3 L429.5,204.8 L430.0,204.4 L430.5,203.9 L431.0,203.5 L431.5,203.0 L432.0,202.6 L432.5,202.2 L433.0,201.7 L433.5,201.3 L434.0,200.8 L434.5,200.4 L435.0,199.9 L435.5,199.5 L436.0,199.0 L436.5,198.6 L437.0,198.1 L437.5,197.7 L438.0,197.3 L438.5,196.9 L439.0,196.5 L439.5,196.1 L440.0,195.8 L440.5,195.5 L440.7,195.4" fill="none" stroke="#fff" stroke-width="2.0"/>
<path d="M273.0,191.6 L273.5,192.3 L274.0,192.9 L274.5,193.5 L275.0,194.2 L275.5,194.8 L276.0,195.5 L276.5,196.2 L277.0,196.9 L277.5,197.5 L278.0,198.2 L278.5,198.9 L279.0,199.7 L279.5,200.4 L280.0,201.1 L280.5,201.8 L281.0,202.5 L281.5,203.3 L282.0,204.0 L282.5,204.8 L283.0,205.5 L283.5,206.2 L284.0,207.0 L284.5,207.7 L285.0,208.5 L285.5,209.2 L286.0,210.0 L286.5,210.7 L287.0,211.5 L287.5,212.2 L288.0,213.0 L288.5,213.7 L289.0,214.4 L289.5,215.2 L290.0,215.9 L290.5,216.6 L291.0,217.3 L291.5,218.0 L292.0,218.7 L292.5,219.4 L293.0,220.1 L293.5,220.8 L294.0,221.5 L294.5,222.2 L295.0,222.8 L295.5,223.5 L296.0,224.1 L296.5,224.8 L297.0,225.4 L297.5,226.0 L298.0,226.6 L298.5,227.2 L299.0,227.8 L299.5,228.4 L300.0,229.0 L300.5,229.6 L301.0,230.2 L301.5,230.7 L302.0,231.3 L302.5,231.9 L303.0,232.4 L303.5,233.0 L304.0,233.5 L304.5,234.0 L305.0,234.6 L305.5,235.1 L306.0,235.6 L306.5,236.1 L307.0,236.7 L307.5,237.2 L308.0,237.7 L308.5,238.2 L309.0,238.7 L309.5,239.2 L310.0,239.7 L310.5,240.1 L311.0,240.6 L311.5,241.1 L312.0,241.6 L312.5,242.1 L313.0,242.6 L313.5,243.0 L314.0,243.5 L314.5,244.0 L315.0,244.4 L315.5,244.9 L316.0,245.4 L316.5,245.8 L317.0,246.3 L317.5,246.8 L318.0,247.2 L318.5,247.7 L319.0,248.1 L319.5,248.6 L320.0,249.0 L320.5,249.5 L321.0,249.9 L321.5,250.3 L322.0,250.8 L322.5,251.2 L323.0,251.6 L323.5,252.0 L324.0,252.5 L324.5,252.9 L325.0,253.3 L325.5,253.7 L326.0,254.1 L326.5,254.4 L327.0,254.8 L327.5,255.2 L328.0,255.6 L328.5,255.9 L329.0,256.3 L329.5,256.6 L330.0,257.0 L330.5,257.3 L331.0,257.6 L331.5,257.9 L332.0,258.3 L332.5,258.6 L333.0,258.8 L333.5,259.1 L334.0,259.4 L334.5,259.7 L335.0,259.9 L335.5,260.2 L336.0,260.4 L336.5,260.7 L337.0,260.9 L337.5,261.1 L338.0,261.3 L338.5,261.5 L339.0,261.6 L339.5,261.8 L340.0,262.0 L340.5,262.1 L341.0,262.3 L341.5,262.4 L342.0,262.5 L342.5,262.6 L343.0,262.7 L343.5,262.8 L344.0,262.9 L344.5,262.9 L345.0,263.0 L345.5,263.0 L346.0,263.1 L346.5,263.1 L347.0,263.1 L347.5,263.1 L348.0,263.1 L348.5,263.1 L349.0,263.1 L349.5,263.1 L350.0,263.0 L350.5,263.0 L351.0,262.9 L351.5,262.9 L352.0,262.8 L352.5,262.7 L353.0,262.7 L353.5,262.6 L354.0,262.5 L354.5,262.4 L355.0,262.3 L355.5,262.1 L356.0,262.0 L356.5,261.9 L357.0,261.7 L357.5,261.6 L358.0,261.4 L358.5,261.3 L359.0,261.1 L359.5,260.9 L360.0,260.7 L360.5,260.6 L361.0,260.4 L361.5,260.2 L362.0,260.0 L362.5,259.7 L363.0,259.5 L363.5,259.3 L364.0,259.1 L364.5,258.8 L365.0,258.6 L365.5,258.4 L366.0,258.1 L366.5,257.8 L367.0,257.6 L367.5,257.3 L368.0,257.0 L368.5,256.8 L369.0,256.5 L369.5,256.2 L370.0,255.9 L370.5,255.6 L371.0,255.3 L371.5,255.0 L372.0,254.7 L372.5,254.4 L373.0,254.0 L373.5,253.7 L374.0,253.4 L374.5,253.1 L375.0,252.7 L375.5,252.4 L376.0,252.0 L376.5,251.7 L377.0,251.3 L377.5,251.0 L378.0,250.6 L378.5,250.2 L379.0,249.9 L379.5,249.5 L380.0,249.1 L380.5,248.7 L381.0,248.3 L381.5,248.0 L382.0,247.6 L382.5,247.2 L383.0,246.8 L383.5,246.4 L384.0,246.0 L384.5,245.6 L385.0,245.2 L385.5,244.7 L386.0,244.3 L386.5,243.9 L387.0,243.5 L387.5,243.1 L388.0,242.6 L388.5,242.2 L389.0,241.8 L389.5,241.3 L390.0,240.9 L390.5,240.5 L391.0,240.0 L391.5,239.6 L392.0,239.2 L392.5,238.7 L393.0,238.3 L393.5,237.8 L394.0,237.4 L394.5,236.9 L395.0,236.5 L395.5,236.0 L396.0,235.6 L396.5,235.1 L397.0,234.6 L397.5,234.2 L398.0,233.7 L398.5,233.3 L399.0,232.8 L399.5,232.3 L400.0,231.9 L400.5,231.4 L401.0,230.9 L401.5,230.5 L402.0,230.0 L402.5,229.5 L403.0,229.1 L403.5,228.6 L404.0,228.1 L404.5,227.7 L405.0,227.2 L405.5,226.7 L406.0,226.3 L406.5,225.8 L407.0,225.3 L407.5,224.9 L408.0,224.4 L408.5,223.9 L409.0,223.5 L409.5,223.0 L410.0,222.5 L410.5,222.1 L411.0,221.6 L411.5,221.1 L412.0,220.7 L412.5,220.2 L413.0,219.7 L413.5,219.3 L414.0,218.8 L414.5,218.4 L415.0,217.9 L415.5,217.5 L416.0,217.0 L416.5,216.5 L417.0,216.1 L417.5,215.6 L418.0,215.2 L418.5,214.7 L419.0,214.3 L419.5,213.8 L420.0,213.4 L420.5,212.9 L421.0,212.5 L421.5,212.0 L422.0,211.6 L422.5,211.1 L423.0,210.7 L423.5,210.2 L424.0,209.8 L424.5,209.3 L425.0,208.9 L425.5,208.4 L426.0,208.0 L426.5,207.5 L427.0,207.1 L427.5,206.6 L428.0,206.2 L428.5,205.7 L429.0,205.3 L429.5,204.8 L430.0,204.4 L430.5,203.9 L431.0,203.5 L431.5,203.0 L432.0,202.6 L432.5,202.2 L433.0,201.7 L433.5,201.3 L434.0,200.8 L434.5,200.4 L435.0,199.9 L435.5,199.5 L436.0,199.0 L436.5,198.6 L437.0,198.1 L437.5,197.7 L438.0,197.3 L438.5,196.9 L439.0,196.5 L439.5,196.1 L440.0,195.8 L440.5,195.5 L440.7,195.4" fill="none" stroke="#404040" stroke-width="1.45" stroke-dasharray="2.7 2.0"/>
<path d="M15.15,150.1 L15.15,9.7" stroke="#4e4e4e" stroke-width="1.8" fill="none"/>
<path d="M14.35,150.1 L221.9,150.1" stroke="#2a2a2a" stroke-width="1.5" fill="none"/>
<circle cx="15.15" cy="9.7" r="1.3" fill="#111"/>
<circle cx="221.9" cy="150.1" r="1.4" fill="#111"/>
<circle cx="15.15" cy="150.1" r="1.0" fill="#111"/>
<path d="M263.55,149.85 L263.55,8.6" stroke="#353535" stroke-width="1.5" fill="none"/>
<path d="M262.75,149.85 L470.8,149.85" stroke="#2a2a2a" stroke-width="1.5" fill="none"/>
<circle cx="263.55" cy="8.6" r="1.3" fill="#111"/>
<circle cx="470.8" cy="149.85" r="1.4" fill="#111"/>
<circle cx="263.55" cy="149.85" r="1.0" fill="#111"/>
<path d="M15.4,325.8 L15.4,182.8" stroke="#4a4a4a" stroke-width="1.7" fill="none"/>
<path d="M14.6,325.8 L221.7,325.8" stroke="#3a3a3a" stroke-width="1.5" fill="none"/>
<circle cx="15.4" cy="182.8" r="1.3" fill="#111"/>
<circle cx="221.7" cy="325.8" r="1.4" fill="#111"/>
<circle cx="15.4" cy="325.8" r="1.0" fill="#111"/>
<path d="M263.7,325.3 L263.7,182.4" stroke="#353535" stroke-width="1.5" fill="none"/>
<path d="M262.9,325.3 L470.0,325.3" stroke="#2a2a2a" stroke-width="1.5" fill="none"/>
<circle cx="263.7" cy="182.4" r="1.3" fill="#111"/>
<circle cx="470.0" cy="325.3" r="1.4" fill="#111"/>
<circle cx="263.7" cy="325.3" r="1.0" fill="#111"/>
<path d="M234.5,358.5 L255,358.5" stroke="#222" stroke-width="1.5"/>
<path d="M234.6,373.8 L255,373.8" stroke="#1a1a1a" stroke-width="2" stroke-dasharray="5.4 3.9"/>
<path d="M234.6,386.3 L254.5,386.3" stroke="#111" stroke-width="1.4" stroke-dasharray="1.3 1.35"/>
</svg>
<div class="t b" style="left:1.9px;top:6.4px;font-size:11.2px;-webkit-text-stroke:0.3px #111;">Q</div>
<div class="t b" style="left:1.9px;top:180.4px;font-size:11.2px;-webkit-text-stroke:0.3px #111;">Q</div>
<div class="t b" style="left:210px;top:2.5px;font-size:8px;">a)</div>
<div class="t b" style="left:459px;top:1px;font-size:8px;">b)</div>
<div class="t b" style="left:210px;top:173.5px;font-size:8px;">c)</div>
<div class="t b" style="left:458px;top:173.5px;font-size:8px;">d)</div>
<div class="t b tm" style="left:436.6px;top:156.8px;">time</div>
<div class="t b tm" style="left:436.3px;top:332.4px;">time</div>
<div class="sw" style="top:344.6px;background:#1f1f1f;border:1px solid #0c0c0c;"></div>
<div class="sw" style="top:364.8px;background:#7a7a7a;border:1px solid #686868;"></div>
<div class="sw" style="top:386.7px;background:#c7c7c7;border:1px solid #bcbcbc;"></div>
<div class="lt" style="left:50.8px;top:345.5px;font-size:8.6px;">human induced deficit</div>
<div class="lt" style="left:50.8px;top:365.2px;font-size:8.45px;">human + climate induced deficit</div>
<div class="lt" style="left:52.5px;top:387px;font-size:8.6px;">climate induced deficit</div>
<div class="lt" style="left:261px;top:354.6px;font-size:8.45px;">human-influenced discharge</div>
<div class="lt" style="left:261px;top:368.4px;font-size:8.3px;">naturalised discharge</div>
<div class="lt" style="left:261px;top:380.6px;font-size:8.7px;">drought threshold</div>
</body></html>
